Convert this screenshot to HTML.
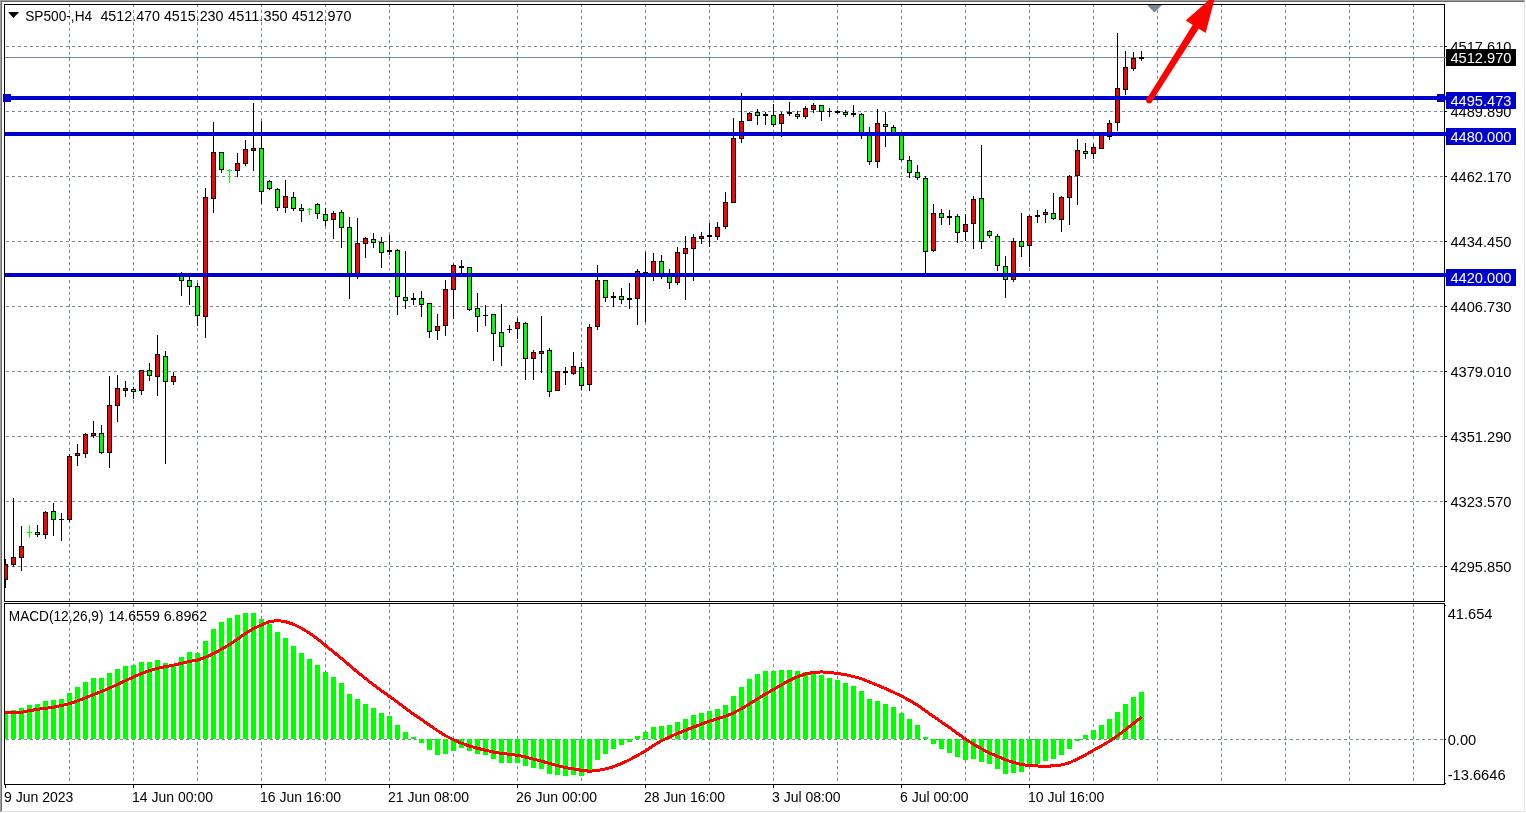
<!DOCTYPE html>
<html lang="en"><head><meta charset="utf-8"><title>SP500-,H4</title>
<style>html,body{margin:0;padding:0;background:#fff;overflow:hidden}svg text{font-family:'Liberation Sans', Arial, sans-serif;white-space:pre}</style>
</head><body>
<svg width="1526" height="813" viewBox="0 0 1526 813" shape-rendering="crispEdges" font-family="'Liberation Sans', Arial, sans-serif" font-size="14" style="display:block">
<rect x="0" y="0" width="1526" height="813" fill="#FFFFFF"/>
<rect x="0" y="0" width="1525" height="1" fill="#A0A0A0"/>
<rect x="0" y="0" width="1" height="812" fill="#A0A0A0"/>
<rect x="1" y="1" width="1523" height="1" fill="#696969"/>
<rect x="1" y="1" width="1" height="810" fill="#696969"/>
<rect x="1" y="811" width="1524" height="1" fill="#E3E3E3"/>
<rect x="1524" y="1" width="1" height="811" fill="#E3E3E3"/>
<path d="M6 46.5H9M12 46.5H15M18 46.5H21M24 46.5H27M30 46.5H33M36 46.5H39M42 46.5H45M48 46.5H51M54 46.5H57M60 46.5H63M66 46.5H69M72 46.5H75M78 46.5H81M84 46.5H87M90 46.5H93M96 46.5H99M102 46.5H105M108 46.5H111M114 46.5H117M120 46.5H123M126 46.5H129M132 46.5H135M138 46.5H141M144 46.5H147M150 46.5H153M156 46.5H159M162 46.5H165M168 46.5H171M174 46.5H177M180 46.5H183M186 46.5H189M192 46.5H195M198 46.5H201M204 46.5H207M210 46.5H213M216 46.5H219M222 46.5H225M228 46.5H231M234 46.5H237M240 46.5H243M246 46.5H249M252 46.5H255M258 46.5H261M264 46.5H267M270 46.5H273M276 46.5H279M282 46.5H285M288 46.5H291M294 46.5H297M300 46.5H303M306 46.5H309M312 46.5H315M318 46.5H321M324 46.5H327M330 46.5H333M336 46.5H339M342 46.5H345M348 46.5H351M354 46.5H357M360 46.5H363M366 46.5H369M372 46.5H375M378 46.5H381M384 46.5H387M390 46.5H393M396 46.5H399M402 46.5H405M408 46.5H411M414 46.5H417M420 46.5H423M426 46.5H429M432 46.5H435M438 46.5H441M444 46.5H447M450 46.5H453M456 46.5H459M462 46.5H465M468 46.5H471M474 46.5H477M480 46.5H483M486 46.5H489M492 46.5H495M498 46.5H501M504 46.5H507M510 46.5H513M516 46.5H519M522 46.5H525M528 46.5H531M534 46.5H537M540 46.5H543M546 46.5H549M552 46.5H555M558 46.5H561M564 46.5H567M570 46.5H573M576 46.5H579M582 46.5H585M588 46.5H591M594 46.5H597M600 46.5H603M606 46.5H609M612 46.5H615M618 46.5H621M624 46.5H627M630 46.5H633M636 46.5H639M642 46.5H645M648 46.5H651M654 46.5H657M660 46.5H663M666 46.5H669M672 46.5H675M678 46.5H681M684 46.5H687M690 46.5H693M696 46.5H699M702 46.5H705M708 46.5H711M714 46.5H717M720 46.5H723M726 46.5H729M732 46.5H735M738 46.5H741M744 46.5H747M750 46.5H753M756 46.5H759M762 46.5H765M768 46.5H771M774 46.5H777M780 46.5H783M786 46.5H789M792 46.5H795M798 46.5H801M804 46.5H807M810 46.5H813M816 46.5H819M822 46.5H825M828 46.5H831M834 46.5H837M840 46.5H843M846 46.5H849M852 46.5H855M858 46.5H861M864 46.5H867M870 46.5H873M876 46.5H879M882 46.5H885M888 46.5H891M894 46.5H897M900 46.5H903M906 46.5H909M912 46.5H915M918 46.5H921M924 46.5H927M930 46.5H933M936 46.5H939M942 46.5H945M948 46.5H951M954 46.5H957M960 46.5H963M966 46.5H969M972 46.5H975M978 46.5H981M984 46.5H987M990 46.5H993M996 46.5H999M1002 46.5H1005M1008 46.5H1011M1014 46.5H1017M1020 46.5H1023M1026 46.5H1029M1032 46.5H1035M1038 46.5H1041M1044 46.5H1047M1050 46.5H1053M1056 46.5H1059M1062 46.5H1065M1068 46.5H1071M1074 46.5H1077M1080 46.5H1083M1086 46.5H1089M1092 46.5H1095M1098 46.5H1101M1104 46.5H1107M1110 46.5H1113M1116 46.5H1119M1122 46.5H1125M1128 46.5H1131M1134 46.5H1137M1140 46.5H1143M1146 46.5H1149M1152 46.5H1155M1158 46.5H1161M1164 46.5H1167M1170 46.5H1173M1176 46.5H1179M1182 46.5H1185M1188 46.5H1191M1194 46.5H1197M1200 46.5H1203M1206 46.5H1209M1212 46.5H1215M1218 46.5H1221M1224 46.5H1227M1230 46.5H1233M1236 46.5H1239M1242 46.5H1245M1248 46.5H1251M1254 46.5H1257M1260 46.5H1263M1266 46.5H1269M1272 46.5H1275M1278 46.5H1281M1284 46.5H1287M1290 46.5H1293M1296 46.5H1299M1302 46.5H1305M1308 46.5H1311M1314 46.5H1317M1320 46.5H1323M1326 46.5H1329M1332 46.5H1335M1338 46.5H1341M1344 46.5H1347M1350 46.5H1353M1356 46.5H1359M1362 46.5H1365M1368 46.5H1371M1374 46.5H1377M1380 46.5H1383M1386 46.5H1389M1392 46.5H1395M1398 46.5H1401M1404 46.5H1407M1410 46.5H1413M1416 46.5H1419M1422 46.5H1425M1428 46.5H1431M1434 46.5H1437M1440 46.5H1443" stroke="#778899" stroke-width="1" fill="none"/>
<path d="M6 111.5H9M12 111.5H15M18 111.5H21M24 111.5H27M30 111.5H33M36 111.5H39M42 111.5H45M48 111.5H51M54 111.5H57M60 111.5H63M66 111.5H69M72 111.5H75M78 111.5H81M84 111.5H87M90 111.5H93M96 111.5H99M102 111.5H105M108 111.5H111M114 111.5H117M120 111.5H123M126 111.5H129M132 111.5H135M138 111.5H141M144 111.5H147M150 111.5H153M156 111.5H159M162 111.5H165M168 111.5H171M174 111.5H177M180 111.5H183M186 111.5H189M192 111.5H195M198 111.5H201M204 111.5H207M210 111.5H213M216 111.5H219M222 111.5H225M228 111.5H231M234 111.5H237M240 111.5H243M246 111.5H249M252 111.5H255M258 111.5H261M264 111.5H267M270 111.5H273M276 111.5H279M282 111.5H285M288 111.5H291M294 111.5H297M300 111.5H303M306 111.5H309M312 111.5H315M318 111.5H321M324 111.5H327M330 111.5H333M336 111.5H339M342 111.5H345M348 111.5H351M354 111.5H357M360 111.5H363M366 111.5H369M372 111.5H375M378 111.5H381M384 111.5H387M390 111.5H393M396 111.5H399M402 111.5H405M408 111.5H411M414 111.5H417M420 111.5H423M426 111.5H429M432 111.5H435M438 111.5H441M444 111.5H447M450 111.5H453M456 111.5H459M462 111.5H465M468 111.5H471M474 111.5H477M480 111.5H483M486 111.5H489M492 111.5H495M498 111.5H501M504 111.5H507M510 111.5H513M516 111.5H519M522 111.5H525M528 111.5H531M534 111.5H537M540 111.5H543M546 111.5H549M552 111.5H555M558 111.5H561M564 111.5H567M570 111.5H573M576 111.5H579M582 111.5H585M588 111.5H591M594 111.5H597M600 111.5H603M606 111.5H609M612 111.5H615M618 111.5H621M624 111.5H627M630 111.5H633M636 111.5H639M642 111.5H645M648 111.5H651M654 111.5H657M660 111.5H663M666 111.5H669M672 111.5H675M678 111.5H681M684 111.5H687M690 111.5H693M696 111.5H699M702 111.5H705M708 111.5H711M714 111.5H717M720 111.5H723M726 111.5H729M732 111.5H735M738 111.5H741M744 111.5H747M750 111.5H753M756 111.5H759M762 111.5H765M768 111.5H771M774 111.5H777M780 111.5H783M786 111.5H789M792 111.5H795M798 111.5H801M804 111.5H807M810 111.5H813M816 111.5H819M822 111.5H825M828 111.5H831M834 111.5H837M840 111.5H843M846 111.5H849M852 111.5H855M858 111.5H861M864 111.5H867M870 111.5H873M876 111.5H879M882 111.5H885M888 111.5H891M894 111.5H897M900 111.5H903M906 111.5H909M912 111.5H915M918 111.5H921M924 111.5H927M930 111.5H933M936 111.5H939M942 111.5H945M948 111.5H951M954 111.5H957M960 111.5H963M966 111.5H969M972 111.5H975M978 111.5H981M984 111.5H987M990 111.5H993M996 111.5H999M1002 111.5H1005M1008 111.5H1011M1014 111.5H1017M1020 111.5H1023M1026 111.5H1029M1032 111.5H1035M1038 111.5H1041M1044 111.5H1047M1050 111.5H1053M1056 111.5H1059M1062 111.5H1065M1068 111.5H1071M1074 111.5H1077M1080 111.5H1083M1086 111.5H1089M1092 111.5H1095M1098 111.5H1101M1104 111.5H1107M1110 111.5H1113M1116 111.5H1119M1122 111.5H1125M1128 111.5H1131M1134 111.5H1137M1140 111.5H1143M1146 111.5H1149M1152 111.5H1155M1158 111.5H1161M1164 111.5H1167M1170 111.5H1173M1176 111.5H1179M1182 111.5H1185M1188 111.5H1191M1194 111.5H1197M1200 111.5H1203M1206 111.5H1209M1212 111.5H1215M1218 111.5H1221M1224 111.5H1227M1230 111.5H1233M1236 111.5H1239M1242 111.5H1245M1248 111.5H1251M1254 111.5H1257M1260 111.5H1263M1266 111.5H1269M1272 111.5H1275M1278 111.5H1281M1284 111.5H1287M1290 111.5H1293M1296 111.5H1299M1302 111.5H1305M1308 111.5H1311M1314 111.5H1317M1320 111.5H1323M1326 111.5H1329M1332 111.5H1335M1338 111.5H1341M1344 111.5H1347M1350 111.5H1353M1356 111.5H1359M1362 111.5H1365M1368 111.5H1371M1374 111.5H1377M1380 111.5H1383M1386 111.5H1389M1392 111.5H1395M1398 111.5H1401M1404 111.5H1407M1410 111.5H1413M1416 111.5H1419M1422 111.5H1425M1428 111.5H1431M1434 111.5H1437M1440 111.5H1443" stroke="#778899" stroke-width="1" fill="none"/>
<path d="M6 176.5H9M12 176.5H15M18 176.5H21M24 176.5H27M30 176.5H33M36 176.5H39M42 176.5H45M48 176.5H51M54 176.5H57M60 176.5H63M66 176.5H69M72 176.5H75M78 176.5H81M84 176.5H87M90 176.5H93M96 176.5H99M102 176.5H105M108 176.5H111M114 176.5H117M120 176.5H123M126 176.5H129M132 176.5H135M138 176.5H141M144 176.5H147M150 176.5H153M156 176.5H159M162 176.5H165M168 176.5H171M174 176.5H177M180 176.5H183M186 176.5H189M192 176.5H195M198 176.5H201M204 176.5H207M210 176.5H213M216 176.5H219M222 176.5H225M228 176.5H231M234 176.5H237M240 176.5H243M246 176.5H249M252 176.5H255M258 176.5H261M264 176.5H267M270 176.5H273M276 176.5H279M282 176.5H285M288 176.5H291M294 176.5H297M300 176.5H303M306 176.5H309M312 176.5H315M318 176.5H321M324 176.5H327M330 176.5H333M336 176.5H339M342 176.5H345M348 176.5H351M354 176.5H357M360 176.5H363M366 176.5H369M372 176.5H375M378 176.5H381M384 176.5H387M390 176.5H393M396 176.5H399M402 176.5H405M408 176.5H411M414 176.5H417M420 176.5H423M426 176.5H429M432 176.5H435M438 176.5H441M444 176.5H447M450 176.5H453M456 176.5H459M462 176.5H465M468 176.5H471M474 176.5H477M480 176.5H483M486 176.5H489M492 176.5H495M498 176.5H501M504 176.5H507M510 176.5H513M516 176.5H519M522 176.5H525M528 176.5H531M534 176.5H537M540 176.5H543M546 176.5H549M552 176.5H555M558 176.5H561M564 176.5H567M570 176.5H573M576 176.5H579M582 176.5H585M588 176.5H591M594 176.5H597M600 176.5H603M606 176.5H609M612 176.5H615M618 176.5H621M624 176.5H627M630 176.5H633M636 176.5H639M642 176.5H645M648 176.5H651M654 176.5H657M660 176.5H663M666 176.5H669M672 176.5H675M678 176.5H681M684 176.5H687M690 176.5H693M696 176.5H699M702 176.5H705M708 176.5H711M714 176.5H717M720 176.5H723M726 176.5H729M732 176.5H735M738 176.5H741M744 176.5H747M750 176.5H753M756 176.5H759M762 176.5H765M768 176.5H771M774 176.5H777M780 176.5H783M786 176.5H789M792 176.5H795M798 176.5H801M804 176.5H807M810 176.5H813M816 176.5H819M822 176.5H825M828 176.5H831M834 176.5H837M840 176.5H843M846 176.5H849M852 176.5H855M858 176.5H861M864 176.5H867M870 176.5H873M876 176.5H879M882 176.5H885M888 176.5H891M894 176.5H897M900 176.5H903M906 176.5H909M912 176.5H915M918 176.5H921M924 176.5H927M930 176.5H933M936 176.5H939M942 176.5H945M948 176.5H951M954 176.5H957M960 176.5H963M966 176.5H969M972 176.5H975M978 176.5H981M984 176.5H987M990 176.5H993M996 176.5H999M1002 176.5H1005M1008 176.5H1011M1014 176.5H1017M1020 176.5H1023M1026 176.5H1029M1032 176.5H1035M1038 176.5H1041M1044 176.5H1047M1050 176.5H1053M1056 176.5H1059M1062 176.5H1065M1068 176.5H1071M1074 176.5H1077M1080 176.5H1083M1086 176.5H1089M1092 176.5H1095M1098 176.5H1101M1104 176.5H1107M1110 176.5H1113M1116 176.5H1119M1122 176.5H1125M1128 176.5H1131M1134 176.5H1137M1140 176.5H1143M1146 176.5H1149M1152 176.5H1155M1158 176.5H1161M1164 176.5H1167M1170 176.5H1173M1176 176.5H1179M1182 176.5H1185M1188 176.5H1191M1194 176.5H1197M1200 176.5H1203M1206 176.5H1209M1212 176.5H1215M1218 176.5H1221M1224 176.5H1227M1230 176.5H1233M1236 176.5H1239M1242 176.5H1245M1248 176.5H1251M1254 176.5H1257M1260 176.5H1263M1266 176.5H1269M1272 176.5H1275M1278 176.5H1281M1284 176.5H1287M1290 176.5H1293M1296 176.5H1299M1302 176.5H1305M1308 176.5H1311M1314 176.5H1317M1320 176.5H1323M1326 176.5H1329M1332 176.5H1335M1338 176.5H1341M1344 176.5H1347M1350 176.5H1353M1356 176.5H1359M1362 176.5H1365M1368 176.5H1371M1374 176.5H1377M1380 176.5H1383M1386 176.5H1389M1392 176.5H1395M1398 176.5H1401M1404 176.5H1407M1410 176.5H1413M1416 176.5H1419M1422 176.5H1425M1428 176.5H1431M1434 176.5H1437M1440 176.5H1443" stroke="#778899" stroke-width="1" fill="none"/>
<path d="M6 241.5H9M12 241.5H15M18 241.5H21M24 241.5H27M30 241.5H33M36 241.5H39M42 241.5H45M48 241.5H51M54 241.5H57M60 241.5H63M66 241.5H69M72 241.5H75M78 241.5H81M84 241.5H87M90 241.5H93M96 241.5H99M102 241.5H105M108 241.5H111M114 241.5H117M120 241.5H123M126 241.5H129M132 241.5H135M138 241.5H141M144 241.5H147M150 241.5H153M156 241.5H159M162 241.5H165M168 241.5H171M174 241.5H177M180 241.5H183M186 241.5H189M192 241.5H195M198 241.5H201M204 241.5H207M210 241.5H213M216 241.5H219M222 241.5H225M228 241.5H231M234 241.5H237M240 241.5H243M246 241.5H249M252 241.5H255M258 241.5H261M264 241.5H267M270 241.5H273M276 241.5H279M282 241.5H285M288 241.5H291M294 241.5H297M300 241.5H303M306 241.5H309M312 241.5H315M318 241.5H321M324 241.5H327M330 241.5H333M336 241.5H339M342 241.5H345M348 241.5H351M354 241.5H357M360 241.5H363M366 241.5H369M372 241.5H375M378 241.5H381M384 241.5H387M390 241.5H393M396 241.5H399M402 241.5H405M408 241.5H411M414 241.5H417M420 241.5H423M426 241.5H429M432 241.5H435M438 241.5H441M444 241.5H447M450 241.5H453M456 241.5H459M462 241.5H465M468 241.5H471M474 241.5H477M480 241.5H483M486 241.5H489M492 241.5H495M498 241.5H501M504 241.5H507M510 241.5H513M516 241.5H519M522 241.5H525M528 241.5H531M534 241.5H537M540 241.5H543M546 241.5H549M552 241.5H555M558 241.5H561M564 241.5H567M570 241.5H573M576 241.5H579M582 241.5H585M588 241.5H591M594 241.5H597M600 241.5H603M606 241.5H609M612 241.5H615M618 241.5H621M624 241.5H627M630 241.5H633M636 241.5H639M642 241.5H645M648 241.5H651M654 241.5H657M660 241.5H663M666 241.5H669M672 241.5H675M678 241.5H681M684 241.5H687M690 241.5H693M696 241.5H699M702 241.5H705M708 241.5H711M714 241.5H717M720 241.5H723M726 241.5H729M732 241.5H735M738 241.5H741M744 241.5H747M750 241.5H753M756 241.5H759M762 241.5H765M768 241.5H771M774 241.5H777M780 241.5H783M786 241.5H789M792 241.5H795M798 241.5H801M804 241.5H807M810 241.5H813M816 241.5H819M822 241.5H825M828 241.5H831M834 241.5H837M840 241.5H843M846 241.5H849M852 241.5H855M858 241.5H861M864 241.5H867M870 241.5H873M876 241.5H879M882 241.5H885M888 241.5H891M894 241.5H897M900 241.5H903M906 241.5H909M912 241.5H915M918 241.5H921M924 241.5H927M930 241.5H933M936 241.5H939M942 241.5H945M948 241.5H951M954 241.5H957M960 241.5H963M966 241.5H969M972 241.5H975M978 241.5H981M984 241.5H987M990 241.5H993M996 241.5H999M1002 241.5H1005M1008 241.5H1011M1014 241.5H1017M1020 241.5H1023M1026 241.5H1029M1032 241.5H1035M1038 241.5H1041M1044 241.5H1047M1050 241.5H1053M1056 241.5H1059M1062 241.5H1065M1068 241.5H1071M1074 241.5H1077M1080 241.5H1083M1086 241.5H1089M1092 241.5H1095M1098 241.5H1101M1104 241.5H1107M1110 241.5H1113M1116 241.5H1119M1122 241.5H1125M1128 241.5H1131M1134 241.5H1137M1140 241.5H1143M1146 241.5H1149M1152 241.5H1155M1158 241.5H1161M1164 241.5H1167M1170 241.5H1173M1176 241.5H1179M1182 241.5H1185M1188 241.5H1191M1194 241.5H1197M1200 241.5H1203M1206 241.5H1209M1212 241.5H1215M1218 241.5H1221M1224 241.5H1227M1230 241.5H1233M1236 241.5H1239M1242 241.5H1245M1248 241.5H1251M1254 241.5H1257M1260 241.5H1263M1266 241.5H1269M1272 241.5H1275M1278 241.5H1281M1284 241.5H1287M1290 241.5H1293M1296 241.5H1299M1302 241.5H1305M1308 241.5H1311M1314 241.5H1317M1320 241.5H1323M1326 241.5H1329M1332 241.5H1335M1338 241.5H1341M1344 241.5H1347M1350 241.5H1353M1356 241.5H1359M1362 241.5H1365M1368 241.5H1371M1374 241.5H1377M1380 241.5H1383M1386 241.5H1389M1392 241.5H1395M1398 241.5H1401M1404 241.5H1407M1410 241.5H1413M1416 241.5H1419M1422 241.5H1425M1428 241.5H1431M1434 241.5H1437M1440 241.5H1443" stroke="#778899" stroke-width="1" fill="none"/>
<path d="M6 306.5H9M12 306.5H15M18 306.5H21M24 306.5H27M30 306.5H33M36 306.5H39M42 306.5H45M48 306.5H51M54 306.5H57M60 306.5H63M66 306.5H69M72 306.5H75M78 306.5H81M84 306.5H87M90 306.5H93M96 306.5H99M102 306.5H105M108 306.5H111M114 306.5H117M120 306.5H123M126 306.5H129M132 306.5H135M138 306.5H141M144 306.5H147M150 306.5H153M156 306.5H159M162 306.5H165M168 306.5H171M174 306.5H177M180 306.5H183M186 306.5H189M192 306.5H195M198 306.5H201M204 306.5H207M210 306.5H213M216 306.5H219M222 306.5H225M228 306.5H231M234 306.5H237M240 306.5H243M246 306.5H249M252 306.5H255M258 306.5H261M264 306.5H267M270 306.5H273M276 306.5H279M282 306.5H285M288 306.5H291M294 306.5H297M300 306.5H303M306 306.5H309M312 306.5H315M318 306.5H321M324 306.5H327M330 306.5H333M336 306.5H339M342 306.5H345M348 306.5H351M354 306.5H357M360 306.5H363M366 306.5H369M372 306.5H375M378 306.5H381M384 306.5H387M390 306.5H393M396 306.5H399M402 306.5H405M408 306.5H411M414 306.5H417M420 306.5H423M426 306.5H429M432 306.5H435M438 306.5H441M444 306.5H447M450 306.5H453M456 306.5H459M462 306.5H465M468 306.5H471M474 306.5H477M480 306.5H483M486 306.5H489M492 306.5H495M498 306.5H501M504 306.5H507M510 306.5H513M516 306.5H519M522 306.5H525M528 306.5H531M534 306.5H537M540 306.5H543M546 306.5H549M552 306.5H555M558 306.5H561M564 306.5H567M570 306.5H573M576 306.5H579M582 306.5H585M588 306.5H591M594 306.5H597M600 306.5H603M606 306.5H609M612 306.5H615M618 306.5H621M624 306.5H627M630 306.5H633M636 306.5H639M642 306.5H645M648 306.5H651M654 306.5H657M660 306.5H663M666 306.5H669M672 306.5H675M678 306.5H681M684 306.5H687M690 306.5H693M696 306.5H699M702 306.5H705M708 306.5H711M714 306.5H717M720 306.5H723M726 306.5H729M732 306.5H735M738 306.5H741M744 306.5H747M750 306.5H753M756 306.5H759M762 306.5H765M768 306.5H771M774 306.5H777M780 306.5H783M786 306.5H789M792 306.5H795M798 306.5H801M804 306.5H807M810 306.5H813M816 306.5H819M822 306.5H825M828 306.5H831M834 306.5H837M840 306.5H843M846 306.5H849M852 306.5H855M858 306.5H861M864 306.5H867M870 306.5H873M876 306.5H879M882 306.5H885M888 306.5H891M894 306.5H897M900 306.5H903M906 306.5H909M912 306.5H915M918 306.5H921M924 306.5H927M930 306.5H933M936 306.5H939M942 306.5H945M948 306.5H951M954 306.5H957M960 306.5H963M966 306.5H969M972 306.5H975M978 306.5H981M984 306.5H987M990 306.5H993M996 306.5H999M1002 306.5H1005M1008 306.5H1011M1014 306.5H1017M1020 306.5H1023M1026 306.5H1029M1032 306.5H1035M1038 306.5H1041M1044 306.5H1047M1050 306.5H1053M1056 306.5H1059M1062 306.5H1065M1068 306.5H1071M1074 306.5H1077M1080 306.5H1083M1086 306.5H1089M1092 306.5H1095M1098 306.5H1101M1104 306.5H1107M1110 306.5H1113M1116 306.5H1119M1122 306.5H1125M1128 306.5H1131M1134 306.5H1137M1140 306.5H1143M1146 306.5H1149M1152 306.5H1155M1158 306.5H1161M1164 306.5H1167M1170 306.5H1173M1176 306.5H1179M1182 306.5H1185M1188 306.5H1191M1194 306.5H1197M1200 306.5H1203M1206 306.5H1209M1212 306.5H1215M1218 306.5H1221M1224 306.5H1227M1230 306.5H1233M1236 306.5H1239M1242 306.5H1245M1248 306.5H1251M1254 306.5H1257M1260 306.5H1263M1266 306.5H1269M1272 306.5H1275M1278 306.5H1281M1284 306.5H1287M1290 306.5H1293M1296 306.5H1299M1302 306.5H1305M1308 306.5H1311M1314 306.5H1317M1320 306.5H1323M1326 306.5H1329M1332 306.5H1335M1338 306.5H1341M1344 306.5H1347M1350 306.5H1353M1356 306.5H1359M1362 306.5H1365M1368 306.5H1371M1374 306.5H1377M1380 306.5H1383M1386 306.5H1389M1392 306.5H1395M1398 306.5H1401M1404 306.5H1407M1410 306.5H1413M1416 306.5H1419M1422 306.5H1425M1428 306.5H1431M1434 306.5H1437M1440 306.5H1443" stroke="#778899" stroke-width="1" fill="none"/>
<path d="M6 371.5H9M12 371.5H15M18 371.5H21M24 371.5H27M30 371.5H33M36 371.5H39M42 371.5H45M48 371.5H51M54 371.5H57M60 371.5H63M66 371.5H69M72 371.5H75M78 371.5H81M84 371.5H87M90 371.5H93M96 371.5H99M102 371.5H105M108 371.5H111M114 371.5H117M120 371.5H123M126 371.5H129M132 371.5H135M138 371.5H141M144 371.5H147M150 371.5H153M156 371.5H159M162 371.5H165M168 371.5H171M174 371.5H177M180 371.5H183M186 371.5H189M192 371.5H195M198 371.5H201M204 371.5H207M210 371.5H213M216 371.5H219M222 371.5H225M228 371.5H231M234 371.5H237M240 371.5H243M246 371.5H249M252 371.5H255M258 371.5H261M264 371.5H267M270 371.5H273M276 371.5H279M282 371.5H285M288 371.5H291M294 371.5H297M300 371.5H303M306 371.5H309M312 371.5H315M318 371.5H321M324 371.5H327M330 371.5H333M336 371.5H339M342 371.5H345M348 371.5H351M354 371.5H357M360 371.5H363M366 371.5H369M372 371.5H375M378 371.5H381M384 371.5H387M390 371.5H393M396 371.5H399M402 371.5H405M408 371.5H411M414 371.5H417M420 371.5H423M426 371.5H429M432 371.5H435M438 371.5H441M444 371.5H447M450 371.5H453M456 371.5H459M462 371.5H465M468 371.5H471M474 371.5H477M480 371.5H483M486 371.5H489M492 371.5H495M498 371.5H501M504 371.5H507M510 371.5H513M516 371.5H519M522 371.5H525M528 371.5H531M534 371.5H537M540 371.5H543M546 371.5H549M552 371.5H555M558 371.5H561M564 371.5H567M570 371.5H573M576 371.5H579M582 371.5H585M588 371.5H591M594 371.5H597M600 371.5H603M606 371.5H609M612 371.5H615M618 371.5H621M624 371.5H627M630 371.5H633M636 371.5H639M642 371.5H645M648 371.5H651M654 371.5H657M660 371.5H663M666 371.5H669M672 371.5H675M678 371.5H681M684 371.5H687M690 371.5H693M696 371.5H699M702 371.5H705M708 371.5H711M714 371.5H717M720 371.5H723M726 371.5H729M732 371.5H735M738 371.5H741M744 371.5H747M750 371.5H753M756 371.5H759M762 371.5H765M768 371.5H771M774 371.5H777M780 371.5H783M786 371.5H789M792 371.5H795M798 371.5H801M804 371.5H807M810 371.5H813M816 371.5H819M822 371.5H825M828 371.5H831M834 371.5H837M840 371.5H843M846 371.5H849M852 371.5H855M858 371.5H861M864 371.5H867M870 371.5H873M876 371.5H879M882 371.5H885M888 371.5H891M894 371.5H897M900 371.5H903M906 371.5H909M912 371.5H915M918 371.5H921M924 371.5H927M930 371.5H933M936 371.5H939M942 371.5H945M948 371.5H951M954 371.5H957M960 371.5H963M966 371.5H969M972 371.5H975M978 371.5H981M984 371.5H987M990 371.5H993M996 371.5H999M1002 371.5H1005M1008 371.5H1011M1014 371.5H1017M1020 371.5H1023M1026 371.5H1029M1032 371.5H1035M1038 371.5H1041M1044 371.5H1047M1050 371.5H1053M1056 371.5H1059M1062 371.5H1065M1068 371.5H1071M1074 371.5H1077M1080 371.5H1083M1086 371.5H1089M1092 371.5H1095M1098 371.5H1101M1104 371.5H1107M1110 371.5H1113M1116 371.5H1119M1122 371.5H1125M1128 371.5H1131M1134 371.5H1137M1140 371.5H1143M1146 371.5H1149M1152 371.5H1155M1158 371.5H1161M1164 371.5H1167M1170 371.5H1173M1176 371.5H1179M1182 371.5H1185M1188 371.5H1191M1194 371.5H1197M1200 371.5H1203M1206 371.5H1209M1212 371.5H1215M1218 371.5H1221M1224 371.5H1227M1230 371.5H1233M1236 371.5H1239M1242 371.5H1245M1248 371.5H1251M1254 371.5H1257M1260 371.5H1263M1266 371.5H1269M1272 371.5H1275M1278 371.5H1281M1284 371.5H1287M1290 371.5H1293M1296 371.5H1299M1302 371.5H1305M1308 371.5H1311M1314 371.5H1317M1320 371.5H1323M1326 371.5H1329M1332 371.5H1335M1338 371.5H1341M1344 371.5H1347M1350 371.5H1353M1356 371.5H1359M1362 371.5H1365M1368 371.5H1371M1374 371.5H1377M1380 371.5H1383M1386 371.5H1389M1392 371.5H1395M1398 371.5H1401M1404 371.5H1407M1410 371.5H1413M1416 371.5H1419M1422 371.5H1425M1428 371.5H1431M1434 371.5H1437M1440 371.5H1443" stroke="#778899" stroke-width="1" fill="none"/>
<path d="M6 436.5H9M12 436.5H15M18 436.5H21M24 436.5H27M30 436.5H33M36 436.5H39M42 436.5H45M48 436.5H51M54 436.5H57M60 436.5H63M66 436.5H69M72 436.5H75M78 436.5H81M84 436.5H87M90 436.5H93M96 436.5H99M102 436.5H105M108 436.5H111M114 436.5H117M120 436.5H123M126 436.5H129M132 436.5H135M138 436.5H141M144 436.5H147M150 436.5H153M156 436.5H159M162 436.5H165M168 436.5H171M174 436.5H177M180 436.5H183M186 436.5H189M192 436.5H195M198 436.5H201M204 436.5H207M210 436.5H213M216 436.5H219M222 436.5H225M228 436.5H231M234 436.5H237M240 436.5H243M246 436.5H249M252 436.5H255M258 436.5H261M264 436.5H267M270 436.5H273M276 436.5H279M282 436.5H285M288 436.5H291M294 436.5H297M300 436.5H303M306 436.5H309M312 436.5H315M318 436.5H321M324 436.5H327M330 436.5H333M336 436.5H339M342 436.5H345M348 436.5H351M354 436.5H357M360 436.5H363M366 436.5H369M372 436.5H375M378 436.5H381M384 436.5H387M390 436.5H393M396 436.5H399M402 436.5H405M408 436.5H411M414 436.5H417M420 436.5H423M426 436.5H429M432 436.5H435M438 436.5H441M444 436.5H447M450 436.5H453M456 436.5H459M462 436.5H465M468 436.5H471M474 436.5H477M480 436.5H483M486 436.5H489M492 436.5H495M498 436.5H501M504 436.5H507M510 436.5H513M516 436.5H519M522 436.5H525M528 436.5H531M534 436.5H537M540 436.5H543M546 436.5H549M552 436.5H555M558 436.5H561M564 436.5H567M570 436.5H573M576 436.5H579M582 436.5H585M588 436.5H591M594 436.5H597M600 436.5H603M606 436.5H609M612 436.5H615M618 436.5H621M624 436.5H627M630 436.5H633M636 436.5H639M642 436.5H645M648 436.5H651M654 436.5H657M660 436.5H663M666 436.5H669M672 436.5H675M678 436.5H681M684 436.5H687M690 436.5H693M696 436.5H699M702 436.5H705M708 436.5H711M714 436.5H717M720 436.5H723M726 436.5H729M732 436.5H735M738 436.5H741M744 436.5H747M750 436.5H753M756 436.5H759M762 436.5H765M768 436.5H771M774 436.5H777M780 436.5H783M786 436.5H789M792 436.5H795M798 436.5H801M804 436.5H807M810 436.5H813M816 436.5H819M822 436.5H825M828 436.5H831M834 436.5H837M840 436.5H843M846 436.5H849M852 436.5H855M858 436.5H861M864 436.5H867M870 436.5H873M876 436.5H879M882 436.5H885M888 436.5H891M894 436.5H897M900 436.5H903M906 436.5H909M912 436.5H915M918 436.5H921M924 436.5H927M930 436.5H933M936 436.5H939M942 436.5H945M948 436.5H951M954 436.5H957M960 436.5H963M966 436.5H969M972 436.5H975M978 436.5H981M984 436.5H987M990 436.5H993M996 436.5H999M1002 436.5H1005M1008 436.5H1011M1014 436.5H1017M1020 436.5H1023M1026 436.5H1029M1032 436.5H1035M1038 436.5H1041M1044 436.5H1047M1050 436.5H1053M1056 436.5H1059M1062 436.5H1065M1068 436.5H1071M1074 436.5H1077M1080 436.5H1083M1086 436.5H1089M1092 436.5H1095M1098 436.5H1101M1104 436.5H1107M1110 436.5H1113M1116 436.5H1119M1122 436.5H1125M1128 436.5H1131M1134 436.5H1137M1140 436.5H1143M1146 436.5H1149M1152 436.5H1155M1158 436.5H1161M1164 436.5H1167M1170 436.5H1173M1176 436.5H1179M1182 436.5H1185M1188 436.5H1191M1194 436.5H1197M1200 436.5H1203M1206 436.5H1209M1212 436.5H1215M1218 436.5H1221M1224 436.5H1227M1230 436.5H1233M1236 436.5H1239M1242 436.5H1245M1248 436.5H1251M1254 436.5H1257M1260 436.5H1263M1266 436.5H1269M1272 436.5H1275M1278 436.5H1281M1284 436.5H1287M1290 436.5H1293M1296 436.5H1299M1302 436.5H1305M1308 436.5H1311M1314 436.5H1317M1320 436.5H1323M1326 436.5H1329M1332 436.5H1335M1338 436.5H1341M1344 436.5H1347M1350 436.5H1353M1356 436.5H1359M1362 436.5H1365M1368 436.5H1371M1374 436.5H1377M1380 436.5H1383M1386 436.5H1389M1392 436.5H1395M1398 436.5H1401M1404 436.5H1407M1410 436.5H1413M1416 436.5H1419M1422 436.5H1425M1428 436.5H1431M1434 436.5H1437M1440 436.5H1443" stroke="#778899" stroke-width="1" fill="none"/>
<path d="M6 501.5H9M12 501.5H15M18 501.5H21M24 501.5H27M30 501.5H33M36 501.5H39M42 501.5H45M48 501.5H51M54 501.5H57M60 501.5H63M66 501.5H69M72 501.5H75M78 501.5H81M84 501.5H87M90 501.5H93M96 501.5H99M102 501.5H105M108 501.5H111M114 501.5H117M120 501.5H123M126 501.5H129M132 501.5H135M138 501.5H141M144 501.5H147M150 501.5H153M156 501.5H159M162 501.5H165M168 501.5H171M174 501.5H177M180 501.5H183M186 501.5H189M192 501.5H195M198 501.5H201M204 501.5H207M210 501.5H213M216 501.5H219M222 501.5H225M228 501.5H231M234 501.5H237M240 501.5H243M246 501.5H249M252 501.5H255M258 501.5H261M264 501.5H267M270 501.5H273M276 501.5H279M282 501.5H285M288 501.5H291M294 501.5H297M300 501.5H303M306 501.5H309M312 501.5H315M318 501.5H321M324 501.5H327M330 501.5H333M336 501.5H339M342 501.5H345M348 501.5H351M354 501.5H357M360 501.5H363M366 501.5H369M372 501.5H375M378 501.5H381M384 501.5H387M390 501.5H393M396 501.5H399M402 501.5H405M408 501.5H411M414 501.5H417M420 501.5H423M426 501.5H429M432 501.5H435M438 501.5H441M444 501.5H447M450 501.5H453M456 501.5H459M462 501.5H465M468 501.5H471M474 501.5H477M480 501.5H483M486 501.5H489M492 501.5H495M498 501.5H501M504 501.5H507M510 501.5H513M516 501.5H519M522 501.5H525M528 501.5H531M534 501.5H537M540 501.5H543M546 501.5H549M552 501.5H555M558 501.5H561M564 501.5H567M570 501.5H573M576 501.5H579M582 501.5H585M588 501.5H591M594 501.5H597M600 501.5H603M606 501.5H609M612 501.5H615M618 501.5H621M624 501.5H627M630 501.5H633M636 501.5H639M642 501.5H645M648 501.5H651M654 501.5H657M660 501.5H663M666 501.5H669M672 501.5H675M678 501.5H681M684 501.5H687M690 501.5H693M696 501.5H699M702 501.5H705M708 501.5H711M714 501.5H717M720 501.5H723M726 501.5H729M732 501.5H735M738 501.5H741M744 501.5H747M750 501.5H753M756 501.5H759M762 501.5H765M768 501.5H771M774 501.5H777M780 501.5H783M786 501.5H789M792 501.5H795M798 501.5H801M804 501.5H807M810 501.5H813M816 501.5H819M822 501.5H825M828 501.5H831M834 501.5H837M840 501.5H843M846 501.5H849M852 501.5H855M858 501.5H861M864 501.5H867M870 501.5H873M876 501.5H879M882 501.5H885M888 501.5H891M894 501.5H897M900 501.5H903M906 501.5H909M912 501.5H915M918 501.5H921M924 501.5H927M930 501.5H933M936 501.5H939M942 501.5H945M948 501.5H951M954 501.5H957M960 501.5H963M966 501.5H969M972 501.5H975M978 501.5H981M984 501.5H987M990 501.5H993M996 501.5H999M1002 501.5H1005M1008 501.5H1011M1014 501.5H1017M1020 501.5H1023M1026 501.5H1029M1032 501.5H1035M1038 501.5H1041M1044 501.5H1047M1050 501.5H1053M1056 501.5H1059M1062 501.5H1065M1068 501.5H1071M1074 501.5H1077M1080 501.5H1083M1086 501.5H1089M1092 501.5H1095M1098 501.5H1101M1104 501.5H1107M1110 501.5H1113M1116 501.5H1119M1122 501.5H1125M1128 501.5H1131M1134 501.5H1137M1140 501.5H1143M1146 501.5H1149M1152 501.5H1155M1158 501.5H1161M1164 501.5H1167M1170 501.5H1173M1176 501.5H1179M1182 501.5H1185M1188 501.5H1191M1194 501.5H1197M1200 501.5H1203M1206 501.5H1209M1212 501.5H1215M1218 501.5H1221M1224 501.5H1227M1230 501.5H1233M1236 501.5H1239M1242 501.5H1245M1248 501.5H1251M1254 501.5H1257M1260 501.5H1263M1266 501.5H1269M1272 501.5H1275M1278 501.5H1281M1284 501.5H1287M1290 501.5H1293M1296 501.5H1299M1302 501.5H1305M1308 501.5H1311M1314 501.5H1317M1320 501.5H1323M1326 501.5H1329M1332 501.5H1335M1338 501.5H1341M1344 501.5H1347M1350 501.5H1353M1356 501.5H1359M1362 501.5H1365M1368 501.5H1371M1374 501.5H1377M1380 501.5H1383M1386 501.5H1389M1392 501.5H1395M1398 501.5H1401M1404 501.5H1407M1410 501.5H1413M1416 501.5H1419M1422 501.5H1425M1428 501.5H1431M1434 501.5H1437M1440 501.5H1443" stroke="#778899" stroke-width="1" fill="none"/>
<path d="M6 566.5H9M12 566.5H15M18 566.5H21M24 566.5H27M30 566.5H33M36 566.5H39M42 566.5H45M48 566.5H51M54 566.5H57M60 566.5H63M66 566.5H69M72 566.5H75M78 566.5H81M84 566.5H87M90 566.5H93M96 566.5H99M102 566.5H105M108 566.5H111M114 566.5H117M120 566.5H123M126 566.5H129M132 566.5H135M138 566.5H141M144 566.5H147M150 566.5H153M156 566.5H159M162 566.5H165M168 566.5H171M174 566.5H177M180 566.5H183M186 566.5H189M192 566.5H195M198 566.5H201M204 566.5H207M210 566.5H213M216 566.5H219M222 566.5H225M228 566.5H231M234 566.5H237M240 566.5H243M246 566.5H249M252 566.5H255M258 566.5H261M264 566.5H267M270 566.5H273M276 566.5H279M282 566.5H285M288 566.5H291M294 566.5H297M300 566.5H303M306 566.5H309M312 566.5H315M318 566.5H321M324 566.5H327M330 566.5H333M336 566.5H339M342 566.5H345M348 566.5H351M354 566.5H357M360 566.5H363M366 566.5H369M372 566.5H375M378 566.5H381M384 566.5H387M390 566.5H393M396 566.5H399M402 566.5H405M408 566.5H411M414 566.5H417M420 566.5H423M426 566.5H429M432 566.5H435M438 566.5H441M444 566.5H447M450 566.5H453M456 566.5H459M462 566.5H465M468 566.5H471M474 566.5H477M480 566.5H483M486 566.5H489M492 566.5H495M498 566.5H501M504 566.5H507M510 566.5H513M516 566.5H519M522 566.5H525M528 566.5H531M534 566.5H537M540 566.5H543M546 566.5H549M552 566.5H555M558 566.5H561M564 566.5H567M570 566.5H573M576 566.5H579M582 566.5H585M588 566.5H591M594 566.5H597M600 566.5H603M606 566.5H609M612 566.5H615M618 566.5H621M624 566.5H627M630 566.5H633M636 566.5H639M642 566.5H645M648 566.5H651M654 566.5H657M660 566.5H663M666 566.5H669M672 566.5H675M678 566.5H681M684 566.5H687M690 566.5H693M696 566.5H699M702 566.5H705M708 566.5H711M714 566.5H717M720 566.5H723M726 566.5H729M732 566.5H735M738 566.5H741M744 566.5H747M750 566.5H753M756 566.5H759M762 566.5H765M768 566.5H771M774 566.5H777M780 566.5H783M786 566.5H789M792 566.5H795M798 566.5H801M804 566.5H807M810 566.5H813M816 566.5H819M822 566.5H825M828 566.5H831M834 566.5H837M840 566.5H843M846 566.5H849M852 566.5H855M858 566.5H861M864 566.5H867M870 566.5H873M876 566.5H879M882 566.5H885M888 566.5H891M894 566.5H897M900 566.5H903M906 566.5H909M912 566.5H915M918 566.5H921M924 566.5H927M930 566.5H933M936 566.5H939M942 566.5H945M948 566.5H951M954 566.5H957M960 566.5H963M966 566.5H969M972 566.5H975M978 566.5H981M984 566.5H987M990 566.5H993M996 566.5H999M1002 566.5H1005M1008 566.5H1011M1014 566.5H1017M1020 566.5H1023M1026 566.5H1029M1032 566.5H1035M1038 566.5H1041M1044 566.5H1047M1050 566.5H1053M1056 566.5H1059M1062 566.5H1065M1068 566.5H1071M1074 566.5H1077M1080 566.5H1083M1086 566.5H1089M1092 566.5H1095M1098 566.5H1101M1104 566.5H1107M1110 566.5H1113M1116 566.5H1119M1122 566.5H1125M1128 566.5H1131M1134 566.5H1137M1140 566.5H1143M1146 566.5H1149M1152 566.5H1155M1158 566.5H1161M1164 566.5H1167M1170 566.5H1173M1176 566.5H1179M1182 566.5H1185M1188 566.5H1191M1194 566.5H1197M1200 566.5H1203M1206 566.5H1209M1212 566.5H1215M1218 566.5H1221M1224 566.5H1227M1230 566.5H1233M1236 566.5H1239M1242 566.5H1245M1248 566.5H1251M1254 566.5H1257M1260 566.5H1263M1266 566.5H1269M1272 566.5H1275M1278 566.5H1281M1284 566.5H1287M1290 566.5H1293M1296 566.5H1299M1302 566.5H1305M1308 566.5H1311M1314 566.5H1317M1320 566.5H1323M1326 566.5H1329M1332 566.5H1335M1338 566.5H1341M1344 566.5H1347M1350 566.5H1353M1356 566.5H1359M1362 566.5H1365M1368 566.5H1371M1374 566.5H1377M1380 566.5H1383M1386 566.5H1389M1392 566.5H1395M1398 566.5H1401M1404 566.5H1407M1410 566.5H1413M1416 566.5H1419M1422 566.5H1425M1428 566.5H1431M1434 566.5H1437M1440 566.5H1443" stroke="#778899" stroke-width="1" fill="none"/>
<path d="M6 739.5H9M12 739.5H15M18 739.5H21M24 739.5H27M30 739.5H33M36 739.5H39M42 739.5H45M48 739.5H51M54 739.5H57M60 739.5H63M66 739.5H69M72 739.5H75M78 739.5H81M84 739.5H87M90 739.5H93M96 739.5H99M102 739.5H105M108 739.5H111M114 739.5H117M120 739.5H123M126 739.5H129M132 739.5H135M138 739.5H141M144 739.5H147M150 739.5H153M156 739.5H159M162 739.5H165M168 739.5H171M174 739.5H177M180 739.5H183M186 739.5H189M192 739.5H195M198 739.5H201M204 739.5H207M210 739.5H213M216 739.5H219M222 739.5H225M228 739.5H231M234 739.5H237M240 739.5H243M246 739.5H249M252 739.5H255M258 739.5H261M264 739.5H267M270 739.5H273M276 739.5H279M282 739.5H285M288 739.5H291M294 739.5H297M300 739.5H303M306 739.5H309M312 739.5H315M318 739.5H321M324 739.5H327M330 739.5H333M336 739.5H339M342 739.5H345M348 739.5H351M354 739.5H357M360 739.5H363M366 739.5H369M372 739.5H375M378 739.5H381M384 739.5H387M390 739.5H393M396 739.5H399M402 739.5H405M408 739.5H411M414 739.5H417M420 739.5H423M426 739.5H429M432 739.5H435M438 739.5H441M444 739.5H447M450 739.5H453M456 739.5H459M462 739.5H465M468 739.5H471M474 739.5H477M480 739.5H483M486 739.5H489M492 739.5H495M498 739.5H501M504 739.5H507M510 739.5H513M516 739.5H519M522 739.5H525M528 739.5H531M534 739.5H537M540 739.5H543M546 739.5H549M552 739.5H555M558 739.5H561M564 739.5H567M570 739.5H573M576 739.5H579M582 739.5H585M588 739.5H591M594 739.5H597M600 739.5H603M606 739.5H609M612 739.5H615M618 739.5H621M624 739.5H627M630 739.5H633M636 739.5H639M642 739.5H645M648 739.5H651M654 739.5H657M660 739.5H663M666 739.5H669M672 739.5H675M678 739.5H681M684 739.5H687M690 739.5H693M696 739.5H699M702 739.5H705M708 739.5H711M714 739.5H717M720 739.5H723M726 739.5H729M732 739.5H735M738 739.5H741M744 739.5H747M750 739.5H753M756 739.5H759M762 739.5H765M768 739.5H771M774 739.5H777M780 739.5H783M786 739.5H789M792 739.5H795M798 739.5H801M804 739.5H807M810 739.5H813M816 739.5H819M822 739.5H825M828 739.5H831M834 739.5H837M840 739.5H843M846 739.5H849M852 739.5H855M858 739.5H861M864 739.5H867M870 739.5H873M876 739.5H879M882 739.5H885M888 739.5H891M894 739.5H897M900 739.5H903M906 739.5H909M912 739.5H915M918 739.5H921M924 739.5H927M930 739.5H933M936 739.5H939M942 739.5H945M948 739.5H951M954 739.5H957M960 739.5H963M966 739.5H969M972 739.5H975M978 739.5H981M984 739.5H987M990 739.5H993M996 739.5H999M1002 739.5H1005M1008 739.5H1011M1014 739.5H1017M1020 739.5H1023M1026 739.5H1029M1032 739.5H1035M1038 739.5H1041M1044 739.5H1047M1050 739.5H1053M1056 739.5H1059M1062 739.5H1065M1068 739.5H1071M1074 739.5H1077M1080 739.5H1083M1086 739.5H1089M1092 739.5H1095M1098 739.5H1101M1104 739.5H1107M1110 739.5H1113M1116 739.5H1119M1122 739.5H1125M1128 739.5H1131M1134 739.5H1137M1140 739.5H1143M1146 739.5H1149M1152 739.5H1155M1158 739.5H1161M1164 739.5H1167M1170 739.5H1173M1176 739.5H1179M1182 739.5H1185M1188 739.5H1191M1194 739.5H1197M1200 739.5H1203M1206 739.5H1209M1212 739.5H1215M1218 739.5H1221M1224 739.5H1227M1230 739.5H1233M1236 739.5H1239M1242 739.5H1245M1248 739.5H1251M1254 739.5H1257M1260 739.5H1263M1266 739.5H1269M1272 739.5H1275M1278 739.5H1281M1284 739.5H1287M1290 739.5H1293M1296 739.5H1299M1302 739.5H1305M1308 739.5H1311M1314 739.5H1317M1320 739.5H1323M1326 739.5H1329M1332 739.5H1335M1338 739.5H1341M1344 739.5H1347M1350 739.5H1353M1356 739.5H1359M1362 739.5H1365M1368 739.5H1371M1374 739.5H1377M1380 739.5H1383M1386 739.5H1389M1392 739.5H1395M1398 739.5H1401M1404 739.5H1407M1410 739.5H1413M1416 739.5H1419M1422 739.5H1425M1428 739.5H1431M1434 739.5H1437M1440 739.5H1443" stroke="#778899" stroke-width="1" fill="none"/>
<path d="M69.5 5V7M69.5 10V13M69.5 16V19M69.5 22V25M69.5 28V31M69.5 34V37M69.5 40V43M69.5 46V49M69.5 52V55M69.5 58V61M69.5 64V67M69.5 70V73M69.5 76V79M69.5 82V85M69.5 88V91M69.5 94V97M69.5 100V103M69.5 106V109M69.5 112V115M69.5 118V121M69.5 124V127M69.5 130V133M69.5 136V139M69.5 142V145M69.5 148V151M69.5 154V157M69.5 160V163M69.5 166V169M69.5 172V175M69.5 178V181M69.5 184V187M69.5 190V193M69.5 196V199M69.5 202V205M69.5 208V211M69.5 214V217M69.5 220V223M69.5 226V229M69.5 232V235M69.5 238V241M69.5 244V247M69.5 250V253M69.5 256V259M69.5 262V265M69.5 268V271M69.5 274V277M69.5 280V283M69.5 286V289M69.5 292V295M69.5 298V301M69.5 304V307M69.5 310V313M69.5 316V319M69.5 322V325M69.5 328V331M69.5 334V337M69.5 340V343M69.5 346V349M69.5 352V355M69.5 358V361M69.5 364V367M69.5 370V373M69.5 376V379M69.5 382V385M69.5 388V391M69.5 394V397M69.5 400V403M69.5 406V409M69.5 412V415M69.5 418V421M69.5 424V427M69.5 430V433M69.5 436V439M69.5 442V445M69.5 448V451M69.5 454V457M69.5 460V463M69.5 466V469M69.5 472V475M69.5 478V481M69.5 484V487M69.5 490V493M69.5 496V499M69.5 502V505M69.5 508V511M69.5 514V517M69.5 520V523M69.5 526V529M69.5 532V535M69.5 538V541M69.5 544V547M69.5 550V553M69.5 556V559M69.5 562V565M69.5 568V571M69.5 574V577M69.5 580V583M69.5 586V589M69.5 592V595M69.5 598V601" stroke="#778899" stroke-width="1" fill="none"/>
<path d="M69.5 604V607M69.5 610V613M69.5 616V619M69.5 622V625M69.5 628V631M69.5 634V637M69.5 640V643M69.5 646V649M69.5 652V655M69.5 658V661M69.5 664V667M69.5 670V673M69.5 676V679M69.5 682V685M69.5 688V691M69.5 694V697M69.5 700V703M69.5 706V709M69.5 712V715M69.5 718V721M69.5 724V727M69.5 730V733M69.5 736V739M69.5 742V745M69.5 748V751M69.5 754V757M69.5 760V763M69.5 766V769M69.5 772V775M69.5 778V781" stroke="#778899" stroke-width="1" fill="none"/>
<path d="M133.5 5V7M133.5 10V13M133.5 16V19M133.5 22V25M133.5 28V31M133.5 34V37M133.5 40V43M133.5 46V49M133.5 52V55M133.5 58V61M133.5 64V67M133.5 70V73M133.5 76V79M133.5 82V85M133.5 88V91M133.5 94V97M133.5 100V103M133.5 106V109M133.5 112V115M133.5 118V121M133.5 124V127M133.5 130V133M133.5 136V139M133.5 142V145M133.5 148V151M133.5 154V157M133.5 160V163M133.5 166V169M133.5 172V175M133.5 178V181M133.5 184V187M133.5 190V193M133.5 196V199M133.5 202V205M133.5 208V211M133.5 214V217M133.5 220V223M133.5 226V229M133.5 232V235M133.5 238V241M133.5 244V247M133.5 250V253M133.5 256V259M133.5 262V265M133.5 268V271M133.5 274V277M133.5 280V283M133.5 286V289M133.5 292V295M133.5 298V301M133.5 304V307M133.5 310V313M133.5 316V319M133.5 322V325M133.5 328V331M133.5 334V337M133.5 340V343M133.5 346V349M133.5 352V355M133.5 358V361M133.5 364V367M133.5 370V373M133.5 376V379M133.5 382V385M133.5 388V391M133.5 394V397M133.5 400V403M133.5 406V409M133.5 412V415M133.5 418V421M133.5 424V427M133.5 430V433M133.5 436V439M133.5 442V445M133.5 448V451M133.5 454V457M133.5 460V463M133.5 466V469M133.5 472V475M133.5 478V481M133.5 484V487M133.5 490V493M133.5 496V499M133.5 502V505M133.5 508V511M133.5 514V517M133.5 520V523M133.5 526V529M133.5 532V535M133.5 538V541M133.5 544V547M133.5 550V553M133.5 556V559M133.5 562V565M133.5 568V571M133.5 574V577M133.5 580V583M133.5 586V589M133.5 592V595M133.5 598V601" stroke="#778899" stroke-width="1" fill="none"/>
<path d="M133.5 604V607M133.5 610V613M133.5 616V619M133.5 622V625M133.5 628V631M133.5 634V637M133.5 640V643M133.5 646V649M133.5 652V655M133.5 658V661M133.5 664V667M133.5 670V673M133.5 676V679M133.5 682V685M133.5 688V691M133.5 694V697M133.5 700V703M133.5 706V709M133.5 712V715M133.5 718V721M133.5 724V727M133.5 730V733M133.5 736V739M133.5 742V745M133.5 748V751M133.5 754V757M133.5 760V763M133.5 766V769M133.5 772V775M133.5 778V781" stroke="#778899" stroke-width="1" fill="none"/>
<path d="M197.5 5V7M197.5 10V13M197.5 16V19M197.5 22V25M197.5 28V31M197.5 34V37M197.5 40V43M197.5 46V49M197.5 52V55M197.5 58V61M197.5 64V67M197.5 70V73M197.5 76V79M197.5 82V85M197.5 88V91M197.5 94V97M197.5 100V103M197.5 106V109M197.5 112V115M197.5 118V121M197.5 124V127M197.5 130V133M197.5 136V139M197.5 142V145M197.5 148V151M197.5 154V157M197.5 160V163M197.5 166V169M197.5 172V175M197.5 178V181M197.5 184V187M197.5 190V193M197.5 196V199M197.5 202V205M197.5 208V211M197.5 214V217M197.5 220V223M197.5 226V229M197.5 232V235M197.5 238V241M197.5 244V247M197.5 250V253M197.5 256V259M197.5 262V265M197.5 268V271M197.5 274V277M197.5 280V283M197.5 286V289M197.5 292V295M197.5 298V301M197.5 304V307M197.5 310V313M197.5 316V319M197.5 322V325M197.5 328V331M197.5 334V337M197.5 340V343M197.5 346V349M197.5 352V355M197.5 358V361M197.5 364V367M197.5 370V373M197.5 376V379M197.5 382V385M197.5 388V391M197.5 394V397M197.5 400V403M197.5 406V409M197.5 412V415M197.5 418V421M197.5 424V427M197.5 430V433M197.5 436V439M197.5 442V445M197.5 448V451M197.5 454V457M197.5 460V463M197.5 466V469M197.5 472V475M197.5 478V481M197.5 484V487M197.5 490V493M197.5 496V499M197.5 502V505M197.5 508V511M197.5 514V517M197.5 520V523M197.5 526V529M197.5 532V535M197.5 538V541M197.5 544V547M197.5 550V553M197.5 556V559M197.5 562V565M197.5 568V571M197.5 574V577M197.5 580V583M197.5 586V589M197.5 592V595M197.5 598V601" stroke="#778899" stroke-width="1" fill="none"/>
<path d="M197.5 604V607M197.5 610V613M197.5 616V619M197.5 622V625M197.5 628V631M197.5 634V637M197.5 640V643M197.5 646V649M197.5 652V655M197.5 658V661M197.5 664V667M197.5 670V673M197.5 676V679M197.5 682V685M197.5 688V691M197.5 694V697M197.5 700V703M197.5 706V709M197.5 712V715M197.5 718V721M197.5 724V727M197.5 730V733M197.5 736V739M197.5 742V745M197.5 748V751M197.5 754V757M197.5 760V763M197.5 766V769M197.5 772V775M197.5 778V781" stroke="#778899" stroke-width="1" fill="none"/>
<path d="M261.5 5V7M261.5 10V13M261.5 16V19M261.5 22V25M261.5 28V31M261.5 34V37M261.5 40V43M261.5 46V49M261.5 52V55M261.5 58V61M261.5 64V67M261.5 70V73M261.5 76V79M261.5 82V85M261.5 88V91M261.5 94V97M261.5 100V103M261.5 106V109M261.5 112V115M261.5 118V121M261.5 124V127M261.5 130V133M261.5 136V139M261.5 142V145M261.5 148V151M261.5 154V157M261.5 160V163M261.5 166V169M261.5 172V175M261.5 178V181M261.5 184V187M261.5 190V193M261.5 196V199M261.5 202V205M261.5 208V211M261.5 214V217M261.5 220V223M261.5 226V229M261.5 232V235M261.5 238V241M261.5 244V247M261.5 250V253M261.5 256V259M261.5 262V265M261.5 268V271M261.5 274V277M261.5 280V283M261.5 286V289M261.5 292V295M261.5 298V301M261.5 304V307M261.5 310V313M261.5 316V319M261.5 322V325M261.5 328V331M261.5 334V337M261.5 340V343M261.5 346V349M261.5 352V355M261.5 358V361M261.5 364V367M261.5 370V373M261.5 376V379M261.5 382V385M261.5 388V391M261.5 394V397M261.5 400V403M261.5 406V409M261.5 412V415M261.5 418V421M261.5 424V427M261.5 430V433M261.5 436V439M261.5 442V445M261.5 448V451M261.5 454V457M261.5 460V463M261.5 466V469M261.5 472V475M261.5 478V481M261.5 484V487M261.5 490V493M261.5 496V499M261.5 502V505M261.5 508V511M261.5 514V517M261.5 520V523M261.5 526V529M261.5 532V535M261.5 538V541M261.5 544V547M261.5 550V553M261.5 556V559M261.5 562V565M261.5 568V571M261.5 574V577M261.5 580V583M261.5 586V589M261.5 592V595M261.5 598V601" stroke="#778899" stroke-width="1" fill="none"/>
<path d="M261.5 604V607M261.5 610V613M261.5 616V619M261.5 622V625M261.5 628V631M261.5 634V637M261.5 640V643M261.5 646V649M261.5 652V655M261.5 658V661M261.5 664V667M261.5 670V673M261.5 676V679M261.5 682V685M261.5 688V691M261.5 694V697M261.5 700V703M261.5 706V709M261.5 712V715M261.5 718V721M261.5 724V727M261.5 730V733M261.5 736V739M261.5 742V745M261.5 748V751M261.5 754V757M261.5 760V763M261.5 766V769M261.5 772V775M261.5 778V781" stroke="#778899" stroke-width="1" fill="none"/>
<path d="M325.5 5V7M325.5 10V13M325.5 16V19M325.5 22V25M325.5 28V31M325.5 34V37M325.5 40V43M325.5 46V49M325.5 52V55M325.5 58V61M325.5 64V67M325.5 70V73M325.5 76V79M325.5 82V85M325.5 88V91M325.5 94V97M325.5 100V103M325.5 106V109M325.5 112V115M325.5 118V121M325.5 124V127M325.5 130V133M325.5 136V139M325.5 142V145M325.5 148V151M325.5 154V157M325.5 160V163M325.5 166V169M325.5 172V175M325.5 178V181M325.5 184V187M325.5 190V193M325.5 196V199M325.5 202V205M325.5 208V211M325.5 214V217M325.5 220V223M325.5 226V229M325.5 232V235M325.5 238V241M325.5 244V247M325.5 250V253M325.5 256V259M325.5 262V265M325.5 268V271M325.5 274V277M325.5 280V283M325.5 286V289M325.5 292V295M325.5 298V301M325.5 304V307M325.5 310V313M325.5 316V319M325.5 322V325M325.5 328V331M325.5 334V337M325.5 340V343M325.5 346V349M325.5 352V355M325.5 358V361M325.5 364V367M325.5 370V373M325.5 376V379M325.5 382V385M325.5 388V391M325.5 394V397M325.5 400V403M325.5 406V409M325.5 412V415M325.5 418V421M325.5 424V427M325.5 430V433M325.5 436V439M325.5 442V445M325.5 448V451M325.5 454V457M325.5 460V463M325.5 466V469M325.5 472V475M325.5 478V481M325.5 484V487M325.5 490V493M325.5 496V499M325.5 502V505M325.5 508V511M325.5 514V517M325.5 520V523M325.5 526V529M325.5 532V535M325.5 538V541M325.5 544V547M325.5 550V553M325.5 556V559M325.5 562V565M325.5 568V571M325.5 574V577M325.5 580V583M325.5 586V589M325.5 592V595M325.5 598V601" stroke="#778899" stroke-width="1" fill="none"/>
<path d="M325.5 604V607M325.5 610V613M325.5 616V619M325.5 622V625M325.5 628V631M325.5 634V637M325.5 640V643M325.5 646V649M325.5 652V655M325.5 658V661M325.5 664V667M325.5 670V673M325.5 676V679M325.5 682V685M325.5 688V691M325.5 694V697M325.5 700V703M325.5 706V709M325.5 712V715M325.5 718V721M325.5 724V727M325.5 730V733M325.5 736V739M325.5 742V745M325.5 748V751M325.5 754V757M325.5 760V763M325.5 766V769M325.5 772V775M325.5 778V781" stroke="#778899" stroke-width="1" fill="none"/>
<path d="M389.5 5V7M389.5 10V13M389.5 16V19M389.5 22V25M389.5 28V31M389.5 34V37M389.5 40V43M389.5 46V49M389.5 52V55M389.5 58V61M389.5 64V67M389.5 70V73M389.5 76V79M389.5 82V85M389.5 88V91M389.5 94V97M389.5 100V103M389.5 106V109M389.5 112V115M389.5 118V121M389.5 124V127M389.5 130V133M389.5 136V139M389.5 142V145M389.5 148V151M389.5 154V157M389.5 160V163M389.5 166V169M389.5 172V175M389.5 178V181M389.5 184V187M389.5 190V193M389.5 196V199M389.5 202V205M389.5 208V211M389.5 214V217M389.5 220V223M389.5 226V229M389.5 232V235M389.5 238V241M389.5 244V247M389.5 250V253M389.5 256V259M389.5 262V265M389.5 268V271M389.5 274V277M389.5 280V283M389.5 286V289M389.5 292V295M389.5 298V301M389.5 304V307M389.5 310V313M389.5 316V319M389.5 322V325M389.5 328V331M389.5 334V337M389.5 340V343M389.5 346V349M389.5 352V355M389.5 358V361M389.5 364V367M389.5 370V373M389.5 376V379M389.5 382V385M389.5 388V391M389.5 394V397M389.5 400V403M389.5 406V409M389.5 412V415M389.5 418V421M389.5 424V427M389.5 430V433M389.5 436V439M389.5 442V445M389.5 448V451M389.5 454V457M389.5 460V463M389.5 466V469M389.5 472V475M389.5 478V481M389.5 484V487M389.5 490V493M389.5 496V499M389.5 502V505M389.5 508V511M389.5 514V517M389.5 520V523M389.5 526V529M389.5 532V535M389.5 538V541M389.5 544V547M389.5 550V553M389.5 556V559M389.5 562V565M389.5 568V571M389.5 574V577M389.5 580V583M389.5 586V589M389.5 592V595M389.5 598V601" stroke="#778899" stroke-width="1" fill="none"/>
<path d="M389.5 604V607M389.5 610V613M389.5 616V619M389.5 622V625M389.5 628V631M389.5 634V637M389.5 640V643M389.5 646V649M389.5 652V655M389.5 658V661M389.5 664V667M389.5 670V673M389.5 676V679M389.5 682V685M389.5 688V691M389.5 694V697M389.5 700V703M389.5 706V709M389.5 712V715M389.5 718V721M389.5 724V727M389.5 730V733M389.5 736V739M389.5 742V745M389.5 748V751M389.5 754V757M389.5 760V763M389.5 766V769M389.5 772V775M389.5 778V781" stroke="#778899" stroke-width="1" fill="none"/>
<path d="M453.5 5V7M453.5 10V13M453.5 16V19M453.5 22V25M453.5 28V31M453.5 34V37M453.5 40V43M453.5 46V49M453.5 52V55M453.5 58V61M453.5 64V67M453.5 70V73M453.5 76V79M453.5 82V85M453.5 88V91M453.5 94V97M453.5 100V103M453.5 106V109M453.5 112V115M453.5 118V121M453.5 124V127M453.5 130V133M453.5 136V139M453.5 142V145M453.5 148V151M453.5 154V157M453.5 160V163M453.5 166V169M453.5 172V175M453.5 178V181M453.5 184V187M453.5 190V193M453.5 196V199M453.5 202V205M453.5 208V211M453.5 214V217M453.5 220V223M453.5 226V229M453.5 232V235M453.5 238V241M453.5 244V247M453.5 250V253M453.5 256V259M453.5 262V265M453.5 268V271M453.5 274V277M453.5 280V283M453.5 286V289M453.5 292V295M453.5 298V301M453.5 304V307M453.5 310V313M453.5 316V319M453.5 322V325M453.5 328V331M453.5 334V337M453.5 340V343M453.5 346V349M453.5 352V355M453.5 358V361M453.5 364V367M453.5 370V373M453.5 376V379M453.5 382V385M453.5 388V391M453.5 394V397M453.5 400V403M453.5 406V409M453.5 412V415M453.5 418V421M453.5 424V427M453.5 430V433M453.5 436V439M453.5 442V445M453.5 448V451M453.5 454V457M453.5 460V463M453.5 466V469M453.5 472V475M453.5 478V481M453.5 484V487M453.5 490V493M453.5 496V499M453.5 502V505M453.5 508V511M453.5 514V517M453.5 520V523M453.5 526V529M453.5 532V535M453.5 538V541M453.5 544V547M453.5 550V553M453.5 556V559M453.5 562V565M453.5 568V571M453.5 574V577M453.5 580V583M453.5 586V589M453.5 592V595M453.5 598V601" stroke="#778899" stroke-width="1" fill="none"/>
<path d="M453.5 604V607M453.5 610V613M453.5 616V619M453.5 622V625M453.5 628V631M453.5 634V637M453.5 640V643M453.5 646V649M453.5 652V655M453.5 658V661M453.5 664V667M453.5 670V673M453.5 676V679M453.5 682V685M453.5 688V691M453.5 694V697M453.5 700V703M453.5 706V709M453.5 712V715M453.5 718V721M453.5 724V727M453.5 730V733M453.5 736V739M453.5 742V745M453.5 748V751M453.5 754V757M453.5 760V763M453.5 766V769M453.5 772V775M453.5 778V781" stroke="#778899" stroke-width="1" fill="none"/>
<path d="M517.5 5V7M517.5 10V13M517.5 16V19M517.5 22V25M517.5 28V31M517.5 34V37M517.5 40V43M517.5 46V49M517.5 52V55M517.5 58V61M517.5 64V67M517.5 70V73M517.5 76V79M517.5 82V85M517.5 88V91M517.5 94V97M517.5 100V103M517.5 106V109M517.5 112V115M517.5 118V121M517.5 124V127M517.5 130V133M517.5 136V139M517.5 142V145M517.5 148V151M517.5 154V157M517.5 160V163M517.5 166V169M517.5 172V175M517.5 178V181M517.5 184V187M517.5 190V193M517.5 196V199M517.5 202V205M517.5 208V211M517.5 214V217M517.5 220V223M517.5 226V229M517.5 232V235M517.5 238V241M517.5 244V247M517.5 250V253M517.5 256V259M517.5 262V265M517.5 268V271M517.5 274V277M517.5 280V283M517.5 286V289M517.5 292V295M517.5 298V301M517.5 304V307M517.5 310V313M517.5 316V319M517.5 322V325M517.5 328V331M517.5 334V337M517.5 340V343M517.5 346V349M517.5 352V355M517.5 358V361M517.5 364V367M517.5 370V373M517.5 376V379M517.5 382V385M517.5 388V391M517.5 394V397M517.5 400V403M517.5 406V409M517.5 412V415M517.5 418V421M517.5 424V427M517.5 430V433M517.5 436V439M517.5 442V445M517.5 448V451M517.5 454V457M517.5 460V463M517.5 466V469M517.5 472V475M517.5 478V481M517.5 484V487M517.5 490V493M517.5 496V499M517.5 502V505M517.5 508V511M517.5 514V517M517.5 520V523M517.5 526V529M517.5 532V535M517.5 538V541M517.5 544V547M517.5 550V553M517.5 556V559M517.5 562V565M517.5 568V571M517.5 574V577M517.5 580V583M517.5 586V589M517.5 592V595M517.5 598V601" stroke="#778899" stroke-width="1" fill="none"/>
<path d="M517.5 604V607M517.5 610V613M517.5 616V619M517.5 622V625M517.5 628V631M517.5 634V637M517.5 640V643M517.5 646V649M517.5 652V655M517.5 658V661M517.5 664V667M517.5 670V673M517.5 676V679M517.5 682V685M517.5 688V691M517.5 694V697M517.5 700V703M517.5 706V709M517.5 712V715M517.5 718V721M517.5 724V727M517.5 730V733M517.5 736V739M517.5 742V745M517.5 748V751M517.5 754V757M517.5 760V763M517.5 766V769M517.5 772V775M517.5 778V781" stroke="#778899" stroke-width="1" fill="none"/>
<path d="M581.5 5V7M581.5 10V13M581.5 16V19M581.5 22V25M581.5 28V31M581.5 34V37M581.5 40V43M581.5 46V49M581.5 52V55M581.5 58V61M581.5 64V67M581.5 70V73M581.5 76V79M581.5 82V85M581.5 88V91M581.5 94V97M581.5 100V103M581.5 106V109M581.5 112V115M581.5 118V121M581.5 124V127M581.5 130V133M581.5 136V139M581.5 142V145M581.5 148V151M581.5 154V157M581.5 160V163M581.5 166V169M581.5 172V175M581.5 178V181M581.5 184V187M581.5 190V193M581.5 196V199M581.5 202V205M581.5 208V211M581.5 214V217M581.5 220V223M581.5 226V229M581.5 232V235M581.5 238V241M581.5 244V247M581.5 250V253M581.5 256V259M581.5 262V265M581.5 268V271M581.5 274V277M581.5 280V283M581.5 286V289M581.5 292V295M581.5 298V301M581.5 304V307M581.5 310V313M581.5 316V319M581.5 322V325M581.5 328V331M581.5 334V337M581.5 340V343M581.5 346V349M581.5 352V355M581.5 358V361M581.5 364V367M581.5 370V373M581.5 376V379M581.5 382V385M581.5 388V391M581.5 394V397M581.5 400V403M581.5 406V409M581.5 412V415M581.5 418V421M581.5 424V427M581.5 430V433M581.5 436V439M581.5 442V445M581.5 448V451M581.5 454V457M581.5 460V463M581.5 466V469M581.5 472V475M581.5 478V481M581.5 484V487M581.5 490V493M581.5 496V499M581.5 502V505M581.5 508V511M581.5 514V517M581.5 520V523M581.5 526V529M581.5 532V535M581.5 538V541M581.5 544V547M581.5 550V553M581.5 556V559M581.5 562V565M581.5 568V571M581.5 574V577M581.5 580V583M581.5 586V589M581.5 592V595M581.5 598V601" stroke="#778899" stroke-width="1" fill="none"/>
<path d="M581.5 604V607M581.5 610V613M581.5 616V619M581.5 622V625M581.5 628V631M581.5 634V637M581.5 640V643M581.5 646V649M581.5 652V655M581.5 658V661M581.5 664V667M581.5 670V673M581.5 676V679M581.5 682V685M581.5 688V691M581.5 694V697M581.5 700V703M581.5 706V709M581.5 712V715M581.5 718V721M581.5 724V727M581.5 730V733M581.5 736V739M581.5 742V745M581.5 748V751M581.5 754V757M581.5 760V763M581.5 766V769M581.5 772V775M581.5 778V781" stroke="#778899" stroke-width="1" fill="none"/>
<path d="M645.5 5V7M645.5 10V13M645.5 16V19M645.5 22V25M645.5 28V31M645.5 34V37M645.5 40V43M645.5 46V49M645.5 52V55M645.5 58V61M645.5 64V67M645.5 70V73M645.5 76V79M645.5 82V85M645.5 88V91M645.5 94V97M645.5 100V103M645.5 106V109M645.5 112V115M645.5 118V121M645.5 124V127M645.5 130V133M645.5 136V139M645.5 142V145M645.5 148V151M645.5 154V157M645.5 160V163M645.5 166V169M645.5 172V175M645.5 178V181M645.5 184V187M645.5 190V193M645.5 196V199M645.5 202V205M645.5 208V211M645.5 214V217M645.5 220V223M645.5 226V229M645.5 232V235M645.5 238V241M645.5 244V247M645.5 250V253M645.5 256V259M645.5 262V265M645.5 268V271M645.5 274V277M645.5 280V283M645.5 286V289M645.5 292V295M645.5 298V301M645.5 304V307M645.5 310V313M645.5 316V319M645.5 322V325M645.5 328V331M645.5 334V337M645.5 340V343M645.5 346V349M645.5 352V355M645.5 358V361M645.5 364V367M645.5 370V373M645.5 376V379M645.5 382V385M645.5 388V391M645.5 394V397M645.5 400V403M645.5 406V409M645.5 412V415M645.5 418V421M645.5 424V427M645.5 430V433M645.5 436V439M645.5 442V445M645.5 448V451M645.5 454V457M645.5 460V463M645.5 466V469M645.5 472V475M645.5 478V481M645.5 484V487M645.5 490V493M645.5 496V499M645.5 502V505M645.5 508V511M645.5 514V517M645.5 520V523M645.5 526V529M645.5 532V535M645.5 538V541M645.5 544V547M645.5 550V553M645.5 556V559M645.5 562V565M645.5 568V571M645.5 574V577M645.5 580V583M645.5 586V589M645.5 592V595M645.5 598V601" stroke="#778899" stroke-width="1" fill="none"/>
<path d="M645.5 604V607M645.5 610V613M645.5 616V619M645.5 622V625M645.5 628V631M645.5 634V637M645.5 640V643M645.5 646V649M645.5 652V655M645.5 658V661M645.5 664V667M645.5 670V673M645.5 676V679M645.5 682V685M645.5 688V691M645.5 694V697M645.5 700V703M645.5 706V709M645.5 712V715M645.5 718V721M645.5 724V727M645.5 730V733M645.5 736V739M645.5 742V745M645.5 748V751M645.5 754V757M645.5 760V763M645.5 766V769M645.5 772V775M645.5 778V781" stroke="#778899" stroke-width="1" fill="none"/>
<path d="M709.5 5V7M709.5 10V13M709.5 16V19M709.5 22V25M709.5 28V31M709.5 34V37M709.5 40V43M709.5 46V49M709.5 52V55M709.5 58V61M709.5 64V67M709.5 70V73M709.5 76V79M709.5 82V85M709.5 88V91M709.5 94V97M709.5 100V103M709.5 106V109M709.5 112V115M709.5 118V121M709.5 124V127M709.5 130V133M709.5 136V139M709.5 142V145M709.5 148V151M709.5 154V157M709.5 160V163M709.5 166V169M709.5 172V175M709.5 178V181M709.5 184V187M709.5 190V193M709.5 196V199M709.5 202V205M709.5 208V211M709.5 214V217M709.5 220V223M709.5 226V229M709.5 232V235M709.5 238V241M709.5 244V247M709.5 250V253M709.5 256V259M709.5 262V265M709.5 268V271M709.5 274V277M709.5 280V283M709.5 286V289M709.5 292V295M709.5 298V301M709.5 304V307M709.5 310V313M709.5 316V319M709.5 322V325M709.5 328V331M709.5 334V337M709.5 340V343M709.5 346V349M709.5 352V355M709.5 358V361M709.5 364V367M709.5 370V373M709.5 376V379M709.5 382V385M709.5 388V391M709.5 394V397M709.5 400V403M709.5 406V409M709.5 412V415M709.5 418V421M709.5 424V427M709.5 430V433M709.5 436V439M709.5 442V445M709.5 448V451M709.5 454V457M709.5 460V463M709.5 466V469M709.5 472V475M709.5 478V481M709.5 484V487M709.5 490V493M709.5 496V499M709.5 502V505M709.5 508V511M709.5 514V517M709.5 520V523M709.5 526V529M709.5 532V535M709.5 538V541M709.5 544V547M709.5 550V553M709.5 556V559M709.5 562V565M709.5 568V571M709.5 574V577M709.5 580V583M709.5 586V589M709.5 592V595M709.5 598V601" stroke="#778899" stroke-width="1" fill="none"/>
<path d="M709.5 604V607M709.5 610V613M709.5 616V619M709.5 622V625M709.5 628V631M709.5 634V637M709.5 640V643M709.5 646V649M709.5 652V655M709.5 658V661M709.5 664V667M709.5 670V673M709.5 676V679M709.5 682V685M709.5 688V691M709.5 694V697M709.5 700V703M709.5 706V709M709.5 712V715M709.5 718V721M709.5 724V727M709.5 730V733M709.5 736V739M709.5 742V745M709.5 748V751M709.5 754V757M709.5 760V763M709.5 766V769M709.5 772V775M709.5 778V781" stroke="#778899" stroke-width="1" fill="none"/>
<path d="M773.5 5V7M773.5 10V13M773.5 16V19M773.5 22V25M773.5 28V31M773.5 34V37M773.5 40V43M773.5 46V49M773.5 52V55M773.5 58V61M773.5 64V67M773.5 70V73M773.5 76V79M773.5 82V85M773.5 88V91M773.5 94V97M773.5 100V103M773.5 106V109M773.5 112V115M773.5 118V121M773.5 124V127M773.5 130V133M773.5 136V139M773.5 142V145M773.5 148V151M773.5 154V157M773.5 160V163M773.5 166V169M773.5 172V175M773.5 178V181M773.5 184V187M773.5 190V193M773.5 196V199M773.5 202V205M773.5 208V211M773.5 214V217M773.5 220V223M773.5 226V229M773.5 232V235M773.5 238V241M773.5 244V247M773.5 250V253M773.5 256V259M773.5 262V265M773.5 268V271M773.5 274V277M773.5 280V283M773.5 286V289M773.5 292V295M773.5 298V301M773.5 304V307M773.5 310V313M773.5 316V319M773.5 322V325M773.5 328V331M773.5 334V337M773.5 340V343M773.5 346V349M773.5 352V355M773.5 358V361M773.5 364V367M773.5 370V373M773.5 376V379M773.5 382V385M773.5 388V391M773.5 394V397M773.5 400V403M773.5 406V409M773.5 412V415M773.5 418V421M773.5 424V427M773.5 430V433M773.5 436V439M773.5 442V445M773.5 448V451M773.5 454V457M773.5 460V463M773.5 466V469M773.5 472V475M773.5 478V481M773.5 484V487M773.5 490V493M773.5 496V499M773.5 502V505M773.5 508V511M773.5 514V517M773.5 520V523M773.5 526V529M773.5 532V535M773.5 538V541M773.5 544V547M773.5 550V553M773.5 556V559M773.5 562V565M773.5 568V571M773.5 574V577M773.5 580V583M773.5 586V589M773.5 592V595M773.5 598V601" stroke="#778899" stroke-width="1" fill="none"/>
<path d="M773.5 604V607M773.5 610V613M773.5 616V619M773.5 622V625M773.5 628V631M773.5 634V637M773.5 640V643M773.5 646V649M773.5 652V655M773.5 658V661M773.5 664V667M773.5 670V673M773.5 676V679M773.5 682V685M773.5 688V691M773.5 694V697M773.5 700V703M773.5 706V709M773.5 712V715M773.5 718V721M773.5 724V727M773.5 730V733M773.5 736V739M773.5 742V745M773.5 748V751M773.5 754V757M773.5 760V763M773.5 766V769M773.5 772V775M773.5 778V781" stroke="#778899" stroke-width="1" fill="none"/>
<path d="M837.5 5V7M837.5 10V13M837.5 16V19M837.5 22V25M837.5 28V31M837.5 34V37M837.5 40V43M837.5 46V49M837.5 52V55M837.5 58V61M837.5 64V67M837.5 70V73M837.5 76V79M837.5 82V85M837.5 88V91M837.5 94V97M837.5 100V103M837.5 106V109M837.5 112V115M837.5 118V121M837.5 124V127M837.5 130V133M837.5 136V139M837.5 142V145M837.5 148V151M837.5 154V157M837.5 160V163M837.5 166V169M837.5 172V175M837.5 178V181M837.5 184V187M837.5 190V193M837.5 196V199M837.5 202V205M837.5 208V211M837.5 214V217M837.5 220V223M837.5 226V229M837.5 232V235M837.5 238V241M837.5 244V247M837.5 250V253M837.5 256V259M837.5 262V265M837.5 268V271M837.5 274V277M837.5 280V283M837.5 286V289M837.5 292V295M837.5 298V301M837.5 304V307M837.5 310V313M837.5 316V319M837.5 322V325M837.5 328V331M837.5 334V337M837.5 340V343M837.5 346V349M837.5 352V355M837.5 358V361M837.5 364V367M837.5 370V373M837.5 376V379M837.5 382V385M837.5 388V391M837.5 394V397M837.5 400V403M837.5 406V409M837.5 412V415M837.5 418V421M837.5 424V427M837.5 430V433M837.5 436V439M837.5 442V445M837.5 448V451M837.5 454V457M837.5 460V463M837.5 466V469M837.5 472V475M837.5 478V481M837.5 484V487M837.5 490V493M837.5 496V499M837.5 502V505M837.5 508V511M837.5 514V517M837.5 520V523M837.5 526V529M837.5 532V535M837.5 538V541M837.5 544V547M837.5 550V553M837.5 556V559M837.5 562V565M837.5 568V571M837.5 574V577M837.5 580V583M837.5 586V589M837.5 592V595M837.5 598V601" stroke="#778899" stroke-width="1" fill="none"/>
<path d="M837.5 604V607M837.5 610V613M837.5 616V619M837.5 622V625M837.5 628V631M837.5 634V637M837.5 640V643M837.5 646V649M837.5 652V655M837.5 658V661M837.5 664V667M837.5 670V673M837.5 676V679M837.5 682V685M837.5 688V691M837.5 694V697M837.5 700V703M837.5 706V709M837.5 712V715M837.5 718V721M837.5 724V727M837.5 730V733M837.5 736V739M837.5 742V745M837.5 748V751M837.5 754V757M837.5 760V763M837.5 766V769M837.5 772V775M837.5 778V781" stroke="#778899" stroke-width="1" fill="none"/>
<path d="M901.5 5V7M901.5 10V13M901.5 16V19M901.5 22V25M901.5 28V31M901.5 34V37M901.5 40V43M901.5 46V49M901.5 52V55M901.5 58V61M901.5 64V67M901.5 70V73M901.5 76V79M901.5 82V85M901.5 88V91M901.5 94V97M901.5 100V103M901.5 106V109M901.5 112V115M901.5 118V121M901.5 124V127M901.5 130V133M901.5 136V139M901.5 142V145M901.5 148V151M901.5 154V157M901.5 160V163M901.5 166V169M901.5 172V175M901.5 178V181M901.5 184V187M901.5 190V193M901.5 196V199M901.5 202V205M901.5 208V211M901.5 214V217M901.5 220V223M901.5 226V229M901.5 232V235M901.5 238V241M901.5 244V247M901.5 250V253M901.5 256V259M901.5 262V265M901.5 268V271M901.5 274V277M901.5 280V283M901.5 286V289M901.5 292V295M901.5 298V301M901.5 304V307M901.5 310V313M901.5 316V319M901.5 322V325M901.5 328V331M901.5 334V337M901.5 340V343M901.5 346V349M901.5 352V355M901.5 358V361M901.5 364V367M901.5 370V373M901.5 376V379M901.5 382V385M901.5 388V391M901.5 394V397M901.5 400V403M901.5 406V409M901.5 412V415M901.5 418V421M901.5 424V427M901.5 430V433M901.5 436V439M901.5 442V445M901.5 448V451M901.5 454V457M901.5 460V463M901.5 466V469M901.5 472V475M901.5 478V481M901.5 484V487M901.5 490V493M901.5 496V499M901.5 502V505M901.5 508V511M901.5 514V517M901.5 520V523M901.5 526V529M901.5 532V535M901.5 538V541M901.5 544V547M901.5 550V553M901.5 556V559M901.5 562V565M901.5 568V571M901.5 574V577M901.5 580V583M901.5 586V589M901.5 592V595M901.5 598V601" stroke="#778899" stroke-width="1" fill="none"/>
<path d="M901.5 604V607M901.5 610V613M901.5 616V619M901.5 622V625M901.5 628V631M901.5 634V637M901.5 640V643M901.5 646V649M901.5 652V655M901.5 658V661M901.5 664V667M901.5 670V673M901.5 676V679M901.5 682V685M901.5 688V691M901.5 694V697M901.5 700V703M901.5 706V709M901.5 712V715M901.5 718V721M901.5 724V727M901.5 730V733M901.5 736V739M901.5 742V745M901.5 748V751M901.5 754V757M901.5 760V763M901.5 766V769M901.5 772V775M901.5 778V781" stroke="#778899" stroke-width="1" fill="none"/>
<path d="M965.5 5V7M965.5 10V13M965.5 16V19M965.5 22V25M965.5 28V31M965.5 34V37M965.5 40V43M965.5 46V49M965.5 52V55M965.5 58V61M965.5 64V67M965.5 70V73M965.5 76V79M965.5 82V85M965.5 88V91M965.5 94V97M965.5 100V103M965.5 106V109M965.5 112V115M965.5 118V121M965.5 124V127M965.5 130V133M965.5 136V139M965.5 142V145M965.5 148V151M965.5 154V157M965.5 160V163M965.5 166V169M965.5 172V175M965.5 178V181M965.5 184V187M965.5 190V193M965.5 196V199M965.5 202V205M965.5 208V211M965.5 214V217M965.5 220V223M965.5 226V229M965.5 232V235M965.5 238V241M965.5 244V247M965.5 250V253M965.5 256V259M965.5 262V265M965.5 268V271M965.5 274V277M965.5 280V283M965.5 286V289M965.5 292V295M965.5 298V301M965.5 304V307M965.5 310V313M965.5 316V319M965.5 322V325M965.5 328V331M965.5 334V337M965.5 340V343M965.5 346V349M965.5 352V355M965.5 358V361M965.5 364V367M965.5 370V373M965.5 376V379M965.5 382V385M965.5 388V391M965.5 394V397M965.5 400V403M965.5 406V409M965.5 412V415M965.5 418V421M965.5 424V427M965.5 430V433M965.5 436V439M965.5 442V445M965.5 448V451M965.5 454V457M965.5 460V463M965.5 466V469M965.5 472V475M965.5 478V481M965.5 484V487M965.5 490V493M965.5 496V499M965.5 502V505M965.5 508V511M965.5 514V517M965.5 520V523M965.5 526V529M965.5 532V535M965.5 538V541M965.5 544V547M965.5 550V553M965.5 556V559M965.5 562V565M965.5 568V571M965.5 574V577M965.5 580V583M965.5 586V589M965.5 592V595M965.5 598V601" stroke="#778899" stroke-width="1" fill="none"/>
<path d="M965.5 604V607M965.5 610V613M965.5 616V619M965.5 622V625M965.5 628V631M965.5 634V637M965.5 640V643M965.5 646V649M965.5 652V655M965.5 658V661M965.5 664V667M965.5 670V673M965.5 676V679M965.5 682V685M965.5 688V691M965.5 694V697M965.5 700V703M965.5 706V709M965.5 712V715M965.5 718V721M965.5 724V727M965.5 730V733M965.5 736V739M965.5 742V745M965.5 748V751M965.5 754V757M965.5 760V763M965.5 766V769M965.5 772V775M965.5 778V781" stroke="#778899" stroke-width="1" fill="none"/>
<path d="M1029.5 5V7M1029.5 10V13M1029.5 16V19M1029.5 22V25M1029.5 28V31M1029.5 34V37M1029.5 40V43M1029.5 46V49M1029.5 52V55M1029.5 58V61M1029.5 64V67M1029.5 70V73M1029.5 76V79M1029.5 82V85M1029.5 88V91M1029.5 94V97M1029.5 100V103M1029.5 106V109M1029.5 112V115M1029.5 118V121M1029.5 124V127M1029.5 130V133M1029.5 136V139M1029.5 142V145M1029.5 148V151M1029.5 154V157M1029.5 160V163M1029.5 166V169M1029.5 172V175M1029.5 178V181M1029.5 184V187M1029.5 190V193M1029.5 196V199M1029.5 202V205M1029.5 208V211M1029.5 214V217M1029.5 220V223M1029.5 226V229M1029.5 232V235M1029.5 238V241M1029.5 244V247M1029.5 250V253M1029.5 256V259M1029.5 262V265M1029.5 268V271M1029.5 274V277M1029.5 280V283M1029.5 286V289M1029.5 292V295M1029.5 298V301M1029.5 304V307M1029.5 310V313M1029.5 316V319M1029.5 322V325M1029.5 328V331M1029.5 334V337M1029.5 340V343M1029.5 346V349M1029.5 352V355M1029.5 358V361M1029.5 364V367M1029.5 370V373M1029.5 376V379M1029.5 382V385M1029.5 388V391M1029.5 394V397M1029.5 400V403M1029.5 406V409M1029.5 412V415M1029.5 418V421M1029.5 424V427M1029.5 430V433M1029.5 436V439M1029.5 442V445M1029.5 448V451M1029.5 454V457M1029.5 460V463M1029.5 466V469M1029.5 472V475M1029.5 478V481M1029.5 484V487M1029.5 490V493M1029.5 496V499M1029.5 502V505M1029.5 508V511M1029.5 514V517M1029.5 520V523M1029.5 526V529M1029.5 532V535M1029.5 538V541M1029.5 544V547M1029.5 550V553M1029.5 556V559M1029.5 562V565M1029.5 568V571M1029.5 574V577M1029.5 580V583M1029.5 586V589M1029.5 592V595M1029.5 598V601" stroke="#778899" stroke-width="1" fill="none"/>
<path d="M1029.5 604V607M1029.5 610V613M1029.5 616V619M1029.5 622V625M1029.5 628V631M1029.5 634V637M1029.5 640V643M1029.5 646V649M1029.5 652V655M1029.5 658V661M1029.5 664V667M1029.5 670V673M1029.5 676V679M1029.5 682V685M1029.5 688V691M1029.5 694V697M1029.5 700V703M1029.5 706V709M1029.5 712V715M1029.5 718V721M1029.5 724V727M1029.5 730V733M1029.5 736V739M1029.5 742V745M1029.5 748V751M1029.5 754V757M1029.5 760V763M1029.5 766V769M1029.5 772V775M1029.5 778V781" stroke="#778899" stroke-width="1" fill="none"/>
<path d="M1093.5 5V7M1093.5 10V13M1093.5 16V19M1093.5 22V25M1093.5 28V31M1093.5 34V37M1093.5 40V43M1093.5 46V49M1093.5 52V55M1093.5 58V61M1093.5 64V67M1093.5 70V73M1093.5 76V79M1093.5 82V85M1093.5 88V91M1093.5 94V97M1093.5 100V103M1093.5 106V109M1093.5 112V115M1093.5 118V121M1093.5 124V127M1093.5 130V133M1093.5 136V139M1093.5 142V145M1093.5 148V151M1093.5 154V157M1093.5 160V163M1093.5 166V169M1093.5 172V175M1093.5 178V181M1093.5 184V187M1093.5 190V193M1093.5 196V199M1093.5 202V205M1093.5 208V211M1093.5 214V217M1093.5 220V223M1093.5 226V229M1093.5 232V235M1093.5 238V241M1093.5 244V247M1093.5 250V253M1093.5 256V259M1093.5 262V265M1093.5 268V271M1093.5 274V277M1093.5 280V283M1093.5 286V289M1093.5 292V295M1093.5 298V301M1093.5 304V307M1093.5 310V313M1093.5 316V319M1093.5 322V325M1093.5 328V331M1093.5 334V337M1093.5 340V343M1093.5 346V349M1093.5 352V355M1093.5 358V361M1093.5 364V367M1093.5 370V373M1093.5 376V379M1093.5 382V385M1093.5 388V391M1093.5 394V397M1093.5 400V403M1093.5 406V409M1093.5 412V415M1093.5 418V421M1093.5 424V427M1093.5 430V433M1093.5 436V439M1093.5 442V445M1093.5 448V451M1093.5 454V457M1093.5 460V463M1093.5 466V469M1093.5 472V475M1093.5 478V481M1093.5 484V487M1093.5 490V493M1093.5 496V499M1093.5 502V505M1093.5 508V511M1093.5 514V517M1093.5 520V523M1093.5 526V529M1093.5 532V535M1093.5 538V541M1093.5 544V547M1093.5 550V553M1093.5 556V559M1093.5 562V565M1093.5 568V571M1093.5 574V577M1093.5 580V583M1093.5 586V589M1093.5 592V595M1093.5 598V601" stroke="#778899" stroke-width="1" fill="none"/>
<path d="M1093.5 604V607M1093.5 610V613M1093.5 616V619M1093.5 622V625M1093.5 628V631M1093.5 634V637M1093.5 640V643M1093.5 646V649M1093.5 652V655M1093.5 658V661M1093.5 664V667M1093.5 670V673M1093.5 676V679M1093.5 682V685M1093.5 688V691M1093.5 694V697M1093.5 700V703M1093.5 706V709M1093.5 712V715M1093.5 718V721M1093.5 724V727M1093.5 730V733M1093.5 736V739M1093.5 742V745M1093.5 748V751M1093.5 754V757M1093.5 760V763M1093.5 766V769M1093.5 772V775M1093.5 778V781" stroke="#778899" stroke-width="1" fill="none"/>
<path d="M1157.5 5V7M1157.5 10V13M1157.5 16V19M1157.5 22V25M1157.5 28V31M1157.5 34V37M1157.5 40V43M1157.5 46V49M1157.5 52V55M1157.5 58V61M1157.5 64V67M1157.5 70V73M1157.5 76V79M1157.5 82V85M1157.5 88V91M1157.5 94V97M1157.5 100V103M1157.5 106V109M1157.5 112V115M1157.5 118V121M1157.5 124V127M1157.5 130V133M1157.5 136V139M1157.5 142V145M1157.5 148V151M1157.5 154V157M1157.5 160V163M1157.5 166V169M1157.5 172V175M1157.5 178V181M1157.5 184V187M1157.5 190V193M1157.5 196V199M1157.5 202V205M1157.5 208V211M1157.5 214V217M1157.5 220V223M1157.5 226V229M1157.5 232V235M1157.5 238V241M1157.5 244V247M1157.5 250V253M1157.5 256V259M1157.5 262V265M1157.5 268V271M1157.5 274V277M1157.5 280V283M1157.5 286V289M1157.5 292V295M1157.5 298V301M1157.5 304V307M1157.5 310V313M1157.5 316V319M1157.5 322V325M1157.5 328V331M1157.5 334V337M1157.5 340V343M1157.5 346V349M1157.5 352V355M1157.5 358V361M1157.5 364V367M1157.5 370V373M1157.5 376V379M1157.5 382V385M1157.5 388V391M1157.5 394V397M1157.5 400V403M1157.5 406V409M1157.5 412V415M1157.5 418V421M1157.5 424V427M1157.5 430V433M1157.5 436V439M1157.5 442V445M1157.5 448V451M1157.5 454V457M1157.5 460V463M1157.5 466V469M1157.5 472V475M1157.5 478V481M1157.5 484V487M1157.5 490V493M1157.5 496V499M1157.5 502V505M1157.5 508V511M1157.5 514V517M1157.5 520V523M1157.5 526V529M1157.5 532V535M1157.5 538V541M1157.5 544V547M1157.5 550V553M1157.5 556V559M1157.5 562V565M1157.5 568V571M1157.5 574V577M1157.5 580V583M1157.5 586V589M1157.5 592V595M1157.5 598V601" stroke="#778899" stroke-width="1" fill="none"/>
<path d="M1157.5 604V607M1157.5 610V613M1157.5 616V619M1157.5 622V625M1157.5 628V631M1157.5 634V637M1157.5 640V643M1157.5 646V649M1157.5 652V655M1157.5 658V661M1157.5 664V667M1157.5 670V673M1157.5 676V679M1157.5 682V685M1157.5 688V691M1157.5 694V697M1157.5 700V703M1157.5 706V709M1157.5 712V715M1157.5 718V721M1157.5 724V727M1157.5 730V733M1157.5 736V739M1157.5 742V745M1157.5 748V751M1157.5 754V757M1157.5 760V763M1157.5 766V769M1157.5 772V775M1157.5 778V781" stroke="#778899" stroke-width="1" fill="none"/>
<path d="M1221.5 5V7M1221.5 10V13M1221.5 16V19M1221.5 22V25M1221.5 28V31M1221.5 34V37M1221.5 40V43M1221.5 46V49M1221.5 52V55M1221.5 58V61M1221.5 64V67M1221.5 70V73M1221.5 76V79M1221.5 82V85M1221.5 88V91M1221.5 94V97M1221.5 100V103M1221.5 106V109M1221.5 112V115M1221.5 118V121M1221.5 124V127M1221.5 130V133M1221.5 136V139M1221.5 142V145M1221.5 148V151M1221.5 154V157M1221.5 160V163M1221.5 166V169M1221.5 172V175M1221.5 178V181M1221.5 184V187M1221.5 190V193M1221.5 196V199M1221.5 202V205M1221.5 208V211M1221.5 214V217M1221.5 220V223M1221.5 226V229M1221.5 232V235M1221.5 238V241M1221.5 244V247M1221.5 250V253M1221.5 256V259M1221.5 262V265M1221.5 268V271M1221.5 274V277M1221.5 280V283M1221.5 286V289M1221.5 292V295M1221.5 298V301M1221.5 304V307M1221.5 310V313M1221.5 316V319M1221.5 322V325M1221.5 328V331M1221.5 334V337M1221.5 340V343M1221.5 346V349M1221.5 352V355M1221.5 358V361M1221.5 364V367M1221.5 370V373M1221.5 376V379M1221.5 382V385M1221.5 388V391M1221.5 394V397M1221.5 400V403M1221.5 406V409M1221.5 412V415M1221.5 418V421M1221.5 424V427M1221.5 430V433M1221.5 436V439M1221.5 442V445M1221.5 448V451M1221.5 454V457M1221.5 460V463M1221.5 466V469M1221.5 472V475M1221.5 478V481M1221.5 484V487M1221.5 490V493M1221.5 496V499M1221.5 502V505M1221.5 508V511M1221.5 514V517M1221.5 520V523M1221.5 526V529M1221.5 532V535M1221.5 538V541M1221.5 544V547M1221.5 550V553M1221.5 556V559M1221.5 562V565M1221.5 568V571M1221.5 574V577M1221.5 580V583M1221.5 586V589M1221.5 592V595M1221.5 598V601" stroke="#778899" stroke-width="1" fill="none"/>
<path d="M1221.5 604V607M1221.5 610V613M1221.5 616V619M1221.5 622V625M1221.5 628V631M1221.5 634V637M1221.5 640V643M1221.5 646V649M1221.5 652V655M1221.5 658V661M1221.5 664V667M1221.5 670V673M1221.5 676V679M1221.5 682V685M1221.5 688V691M1221.5 694V697M1221.5 700V703M1221.5 706V709M1221.5 712V715M1221.5 718V721M1221.5 724V727M1221.5 730V733M1221.5 736V739M1221.5 742V745M1221.5 748V751M1221.5 754V757M1221.5 760V763M1221.5 766V769M1221.5 772V775M1221.5 778V781" stroke="#778899" stroke-width="1" fill="none"/>
<path d="M1285.5 5V7M1285.5 10V13M1285.5 16V19M1285.5 22V25M1285.5 28V31M1285.5 34V37M1285.5 40V43M1285.5 46V49M1285.5 52V55M1285.5 58V61M1285.5 64V67M1285.5 70V73M1285.5 76V79M1285.5 82V85M1285.5 88V91M1285.5 94V97M1285.5 100V103M1285.5 106V109M1285.5 112V115M1285.5 118V121M1285.5 124V127M1285.5 130V133M1285.5 136V139M1285.5 142V145M1285.5 148V151M1285.5 154V157M1285.5 160V163M1285.5 166V169M1285.5 172V175M1285.5 178V181M1285.5 184V187M1285.5 190V193M1285.5 196V199M1285.5 202V205M1285.5 208V211M1285.5 214V217M1285.5 220V223M1285.5 226V229M1285.5 232V235M1285.5 238V241M1285.5 244V247M1285.5 250V253M1285.5 256V259M1285.5 262V265M1285.5 268V271M1285.5 274V277M1285.5 280V283M1285.5 286V289M1285.5 292V295M1285.5 298V301M1285.5 304V307M1285.5 310V313M1285.5 316V319M1285.5 322V325M1285.5 328V331M1285.5 334V337M1285.5 340V343M1285.5 346V349M1285.5 352V355M1285.5 358V361M1285.5 364V367M1285.5 370V373M1285.5 376V379M1285.5 382V385M1285.5 388V391M1285.5 394V397M1285.5 400V403M1285.5 406V409M1285.5 412V415M1285.5 418V421M1285.5 424V427M1285.5 430V433M1285.5 436V439M1285.5 442V445M1285.5 448V451M1285.5 454V457M1285.5 460V463M1285.5 466V469M1285.5 472V475M1285.5 478V481M1285.5 484V487M1285.5 490V493M1285.5 496V499M1285.5 502V505M1285.5 508V511M1285.5 514V517M1285.5 520V523M1285.5 526V529M1285.5 532V535M1285.5 538V541M1285.5 544V547M1285.5 550V553M1285.5 556V559M1285.5 562V565M1285.5 568V571M1285.5 574V577M1285.5 580V583M1285.5 586V589M1285.5 592V595M1285.5 598V601" stroke="#778899" stroke-width="1" fill="none"/>
<path d="M1285.5 604V607M1285.5 610V613M1285.5 616V619M1285.5 622V625M1285.5 628V631M1285.5 634V637M1285.5 640V643M1285.5 646V649M1285.5 652V655M1285.5 658V661M1285.5 664V667M1285.5 670V673M1285.5 676V679M1285.5 682V685M1285.5 688V691M1285.5 694V697M1285.5 700V703M1285.5 706V709M1285.5 712V715M1285.5 718V721M1285.5 724V727M1285.5 730V733M1285.5 736V739M1285.5 742V745M1285.5 748V751M1285.5 754V757M1285.5 760V763M1285.5 766V769M1285.5 772V775M1285.5 778V781" stroke="#778899" stroke-width="1" fill="none"/>
<path d="M1349.5 5V7M1349.5 10V13M1349.5 16V19M1349.5 22V25M1349.5 28V31M1349.5 34V37M1349.5 40V43M1349.5 46V49M1349.5 52V55M1349.5 58V61M1349.5 64V67M1349.5 70V73M1349.5 76V79M1349.5 82V85M1349.5 88V91M1349.5 94V97M1349.5 100V103M1349.5 106V109M1349.5 112V115M1349.5 118V121M1349.5 124V127M1349.5 130V133M1349.5 136V139M1349.5 142V145M1349.5 148V151M1349.5 154V157M1349.5 160V163M1349.5 166V169M1349.5 172V175M1349.5 178V181M1349.5 184V187M1349.5 190V193M1349.5 196V199M1349.5 202V205M1349.5 208V211M1349.5 214V217M1349.5 220V223M1349.5 226V229M1349.5 232V235M1349.5 238V241M1349.5 244V247M1349.5 250V253M1349.5 256V259M1349.5 262V265M1349.5 268V271M1349.5 274V277M1349.5 280V283M1349.5 286V289M1349.5 292V295M1349.5 298V301M1349.5 304V307M1349.5 310V313M1349.5 316V319M1349.5 322V325M1349.5 328V331M1349.5 334V337M1349.5 340V343M1349.5 346V349M1349.5 352V355M1349.5 358V361M1349.5 364V367M1349.5 370V373M1349.5 376V379M1349.5 382V385M1349.5 388V391M1349.5 394V397M1349.5 400V403M1349.5 406V409M1349.5 412V415M1349.5 418V421M1349.5 424V427M1349.5 430V433M1349.5 436V439M1349.5 442V445M1349.5 448V451M1349.5 454V457M1349.5 460V463M1349.5 466V469M1349.5 472V475M1349.5 478V481M1349.5 484V487M1349.5 490V493M1349.5 496V499M1349.5 502V505M1349.5 508V511M1349.5 514V517M1349.5 520V523M1349.5 526V529M1349.5 532V535M1349.5 538V541M1349.5 544V547M1349.5 550V553M1349.5 556V559M1349.5 562V565M1349.5 568V571M1349.5 574V577M1349.5 580V583M1349.5 586V589M1349.5 592V595M1349.5 598V601" stroke="#778899" stroke-width="1" fill="none"/>
<path d="M1349.5 604V607M1349.5 610V613M1349.5 616V619M1349.5 622V625M1349.5 628V631M1349.5 634V637M1349.5 640V643M1349.5 646V649M1349.5 652V655M1349.5 658V661M1349.5 664V667M1349.5 670V673M1349.5 676V679M1349.5 682V685M1349.5 688V691M1349.5 694V697M1349.5 700V703M1349.5 706V709M1349.5 712V715M1349.5 718V721M1349.5 724V727M1349.5 730V733M1349.5 736V739M1349.5 742V745M1349.5 748V751M1349.5 754V757M1349.5 760V763M1349.5 766V769M1349.5 772V775M1349.5 778V781" stroke="#778899" stroke-width="1" fill="none"/>
<path d="M1413.5 5V7M1413.5 10V13M1413.5 16V19M1413.5 22V25M1413.5 28V31M1413.5 34V37M1413.5 40V43M1413.5 46V49M1413.5 52V55M1413.5 58V61M1413.5 64V67M1413.5 70V73M1413.5 76V79M1413.5 82V85M1413.5 88V91M1413.5 94V97M1413.5 100V103M1413.5 106V109M1413.5 112V115M1413.5 118V121M1413.5 124V127M1413.5 130V133M1413.5 136V139M1413.5 142V145M1413.5 148V151M1413.5 154V157M1413.5 160V163M1413.5 166V169M1413.5 172V175M1413.5 178V181M1413.5 184V187M1413.5 190V193M1413.5 196V199M1413.5 202V205M1413.5 208V211M1413.5 214V217M1413.5 220V223M1413.5 226V229M1413.5 232V235M1413.5 238V241M1413.5 244V247M1413.5 250V253M1413.5 256V259M1413.5 262V265M1413.5 268V271M1413.5 274V277M1413.5 280V283M1413.5 286V289M1413.5 292V295M1413.5 298V301M1413.5 304V307M1413.5 310V313M1413.5 316V319M1413.5 322V325M1413.5 328V331M1413.5 334V337M1413.5 340V343M1413.5 346V349M1413.5 352V355M1413.5 358V361M1413.5 364V367M1413.5 370V373M1413.5 376V379M1413.5 382V385M1413.5 388V391M1413.5 394V397M1413.5 400V403M1413.5 406V409M1413.5 412V415M1413.5 418V421M1413.5 424V427M1413.5 430V433M1413.5 436V439M1413.5 442V445M1413.5 448V451M1413.5 454V457M1413.5 460V463M1413.5 466V469M1413.5 472V475M1413.5 478V481M1413.5 484V487M1413.5 490V493M1413.5 496V499M1413.5 502V505M1413.5 508V511M1413.5 514V517M1413.5 520V523M1413.5 526V529M1413.5 532V535M1413.5 538V541M1413.5 544V547M1413.5 550V553M1413.5 556V559M1413.5 562V565M1413.5 568V571M1413.5 574V577M1413.5 580V583M1413.5 586V589M1413.5 592V595M1413.5 598V601" stroke="#778899" stroke-width="1" fill="none"/>
<path d="M1413.5 604V607M1413.5 610V613M1413.5 616V619M1413.5 622V625M1413.5 628V631M1413.5 634V637M1413.5 640V643M1413.5 646V649M1413.5 652V655M1413.5 658V661M1413.5 664V667M1413.5 670V673M1413.5 676V679M1413.5 682V685M1413.5 688V691M1413.5 694V697M1413.5 700V703M1413.5 706V709M1413.5 712V715M1413.5 718V721M1413.5 724V727M1413.5 730V733M1413.5 736V739M1413.5 742V745M1413.5 748V751M1413.5 754V757M1413.5 760V763M1413.5 766V769M1413.5 772V775M1413.5 778V781" stroke="#778899" stroke-width="1" fill="none"/>
<rect x="5" y="57" width="1439" height="1" fill="#778899"/>
<polygon points="8,12 19,12 13.5,18" fill="#000" shape-rendering="geometricPrecision"/>
<rect x="5" y="559" width="1" height="29" fill="#000"/>
<rect x="3" y="564" width="5" height="16" fill="#000"/>
<rect x="4" y="565" width="3" height="14" fill="#FF0000"/>
<rect x="13" y="498" width="1" height="69" fill="#000"/>
<rect x="11" y="557" width="5" height="8" fill="#000"/>
<rect x="12" y="558" width="3" height="6" fill="#FF0000"/>
<rect x="21" y="526" width="1" height="45" fill="#000"/>
<rect x="19" y="546" width="5" height="12" fill="#000"/>
<rect x="20" y="547" width="3" height="10" fill="#FF0000"/>
<rect x="29" y="525" width="1" height="13" fill="#00FF00"/>
<rect x="27" y="532" width="5" height="1" fill="#00FF00"/>
<rect x="37" y="525" width="1" height="12" fill="#000"/>
<rect x="35" y="532" width="5" height="3" fill="#000"/>
<rect x="36" y="533" width="3" height="1" fill="#00FF00"/>
<rect x="45" y="511" width="1" height="28" fill="#000"/>
<rect x="43" y="512" width="5" height="23" fill="#000"/>
<rect x="44" y="513" width="3" height="21" fill="#FF0000"/>
<rect x="53" y="503" width="1" height="33" fill="#000"/>
<rect x="51" y="511" width="5" height="9" fill="#000"/>
<rect x="52" y="512" width="3" height="7" fill="#00FF00"/>
<rect x="61" y="513" width="1" height="28" fill="#000"/>
<rect x="59" y="519" width="5" height="1" fill="#000"/>
<rect x="69" y="454" width="1" height="68" fill="#000"/>
<rect x="67" y="456" width="5" height="64" fill="#000"/>
<rect x="68" y="457" width="3" height="62" fill="#FF0000"/>
<rect x="77" y="444" width="1" height="22" fill="#000"/>
<rect x="75" y="453" width="5" height="3" fill="#000"/>
<rect x="76" y="454" width="3" height="1" fill="#FF0000"/>
<rect x="85" y="433" width="1" height="25" fill="#000"/>
<rect x="83" y="434" width="5" height="20" fill="#000"/>
<rect x="84" y="435" width="3" height="18" fill="#FF0000"/>
<rect x="93" y="421" width="1" height="17" fill="#000"/>
<rect x="91" y="433" width="5" height="3" fill="#000"/>
<rect x="92" y="434" width="3" height="1" fill="#FF0000"/>
<rect x="101" y="425" width="1" height="29" fill="#000"/>
<rect x="99" y="433" width="5" height="20" fill="#000"/>
<rect x="100" y="434" width="3" height="18" fill="#00FF00"/>
<rect x="109" y="376" width="1" height="92" fill="#000"/>
<rect x="107" y="405" width="5" height="48" fill="#000"/>
<rect x="108" y="406" width="3" height="46" fill="#FF0000"/>
<rect x="117" y="375" width="1" height="47" fill="#000"/>
<rect x="115" y="388" width="5" height="18" fill="#000"/>
<rect x="116" y="389" width="3" height="16" fill="#FF0000"/>
<rect x="125" y="381" width="1" height="16" fill="#000"/>
<rect x="123" y="388" width="5" height="3" fill="#000"/>
<rect x="124" y="389" width="3" height="1" fill="#FF0000"/>
<rect x="133" y="387" width="1" height="12" fill="#000"/>
<rect x="131" y="389" width="5" height="3" fill="#000"/>
<rect x="132" y="390" width="3" height="1" fill="#00FF00"/>
<rect x="141" y="370" width="1" height="25" fill="#000"/>
<rect x="139" y="370" width="5" height="21" fill="#000"/>
<rect x="140" y="371" width="3" height="19" fill="#FF0000"/>
<rect x="149" y="363" width="1" height="18" fill="#000"/>
<rect x="147" y="370" width="5" height="6" fill="#000"/>
<rect x="148" y="371" width="3" height="4" fill="#00FF00"/>
<rect x="157" y="335" width="1" height="61" fill="#000"/>
<rect x="155" y="354" width="5" height="23" fill="#000"/>
<rect x="156" y="355" width="3" height="21" fill="#FF0000"/>
<rect x="165" y="351" width="1" height="113" fill="#000"/>
<rect x="163" y="356" width="5" height="26" fill="#000"/>
<rect x="164" y="357" width="3" height="24" fill="#00FF00"/>
<rect x="173" y="372" width="1" height="13" fill="#000"/>
<rect x="171" y="376" width="5" height="6" fill="#000"/>
<rect x="172" y="377" width="3" height="4" fill="#FF0000"/>
<rect x="181" y="272" width="1" height="24" fill="#000"/>
<rect x="179" y="273" width="5" height="8" fill="#000"/>
<rect x="180" y="274" width="3" height="6" fill="#00FF00"/>
<rect x="189" y="277" width="1" height="28" fill="#000"/>
<rect x="187" y="280" width="5" height="7" fill="#000"/>
<rect x="188" y="281" width="3" height="5" fill="#00FF00"/>
<rect x="197" y="283" width="1" height="43" fill="#000"/>
<rect x="195" y="286" width="5" height="30" fill="#000"/>
<rect x="196" y="287" width="3" height="28" fill="#00FF00"/>
<rect x="205" y="188" width="1" height="150" fill="#000"/>
<rect x="203" y="197" width="5" height="120" fill="#000"/>
<rect x="204" y="198" width="3" height="118" fill="#FF0000"/>
<rect x="213" y="122" width="1" height="91" fill="#000"/>
<rect x="211" y="152" width="5" height="47" fill="#000"/>
<rect x="212" y="153" width="3" height="45" fill="#FF0000"/>
<rect x="221" y="152" width="1" height="21" fill="#000"/>
<rect x="219" y="152" width="5" height="18" fill="#000"/>
<rect x="220" y="153" width="3" height="16" fill="#00FF00"/>
<rect x="229" y="169" width="1" height="14" fill="#00FF00"/>
<rect x="227" y="170" width="5" height="1" fill="#00FF00"/>
<rect x="237" y="153" width="1" height="24" fill="#000"/>
<rect x="235" y="163" width="5" height="8" fill="#000"/>
<rect x="236" y="164" width="3" height="6" fill="#FF0000"/>
<rect x="245" y="140" width="1" height="26" fill="#000"/>
<rect x="243" y="149" width="5" height="15" fill="#000"/>
<rect x="244" y="150" width="3" height="13" fill="#FF0000"/>
<rect x="253" y="103" width="1" height="68" fill="#000"/>
<rect x="251" y="148" width="5" height="3" fill="#000"/>
<rect x="252" y="149" width="3" height="1" fill="#FF0000"/>
<rect x="261" y="121" width="1" height="83" fill="#000"/>
<rect x="259" y="148" width="5" height="44" fill="#000"/>
<rect x="260" y="149" width="3" height="42" fill="#00FF00"/>
<rect x="269" y="180" width="1" height="10" fill="#000"/>
<rect x="267" y="181" width="5" height="8" fill="#000"/>
<rect x="268" y="182" width="3" height="6" fill="#00FF00"/>
<rect x="277" y="188" width="1" height="23" fill="#000"/>
<rect x="275" y="189" width="5" height="19" fill="#000"/>
<rect x="276" y="190" width="3" height="17" fill="#00FF00"/>
<rect x="285" y="180" width="1" height="33" fill="#000"/>
<rect x="283" y="196" width="5" height="12" fill="#000"/>
<rect x="284" y="197" width="3" height="10" fill="#FF0000"/>
<rect x="293" y="192" width="1" height="19" fill="#000"/>
<rect x="291" y="197" width="5" height="12" fill="#000"/>
<rect x="292" y="198" width="3" height="10" fill="#00FF00"/>
<rect x="301" y="204" width="1" height="18" fill="#000"/>
<rect x="299" y="208" width="5" height="3" fill="#000"/>
<rect x="300" y="209" width="3" height="1" fill="#00FF00"/>
<rect x="309" y="208" width="1" height="7" fill="#00FF00"/>
<rect x="307" y="209" width="5" height="1" fill="#00FF00"/>
<rect x="317" y="203" width="1" height="16" fill="#000"/>
<rect x="315" y="204" width="5" height="10" fill="#000"/>
<rect x="316" y="205" width="3" height="8" fill="#00FF00"/>
<rect x="325" y="208" width="1" height="18" fill="#000"/>
<rect x="323" y="214" width="5" height="7" fill="#000"/>
<rect x="324" y="215" width="3" height="5" fill="#00FF00"/>
<rect x="333" y="211" width="1" height="28" fill="#000"/>
<rect x="331" y="213" width="5" height="7" fill="#000"/>
<rect x="332" y="214" width="3" height="5" fill="#FF0000"/>
<rect x="341" y="210" width="1" height="38" fill="#000"/>
<rect x="339" y="212" width="5" height="16" fill="#000"/>
<rect x="340" y="213" width="3" height="14" fill="#00FF00"/>
<rect x="349" y="217" width="1" height="82" fill="#000"/>
<rect x="347" y="227" width="5" height="48" fill="#000"/>
<rect x="348" y="228" width="3" height="46" fill="#00FF00"/>
<rect x="357" y="218" width="1" height="61" fill="#000"/>
<rect x="355" y="243" width="5" height="32" fill="#000"/>
<rect x="356" y="244" width="3" height="30" fill="#FF0000"/>
<rect x="365" y="237" width="1" height="21" fill="#000"/>
<rect x="363" y="238" width="5" height="6" fill="#000"/>
<rect x="364" y="239" width="3" height="4" fill="#FF0000"/>
<rect x="373" y="233" width="1" height="15" fill="#000"/>
<rect x="371" y="239" width="5" height="4" fill="#000"/>
<rect x="372" y="240" width="3" height="2" fill="#00FF00"/>
<rect x="381" y="237" width="1" height="31" fill="#000"/>
<rect x="379" y="242" width="5" height="11" fill="#000"/>
<rect x="380" y="243" width="3" height="9" fill="#00FF00"/>
<rect x="389" y="235" width="1" height="20" fill="#000"/>
<rect x="387" y="250" width="5" height="2" fill="#000"/>
<rect x="397" y="249" width="1" height="66" fill="#000"/>
<rect x="395" y="250" width="5" height="47" fill="#000"/>
<rect x="396" y="251" width="3" height="45" fill="#00FF00"/>
<rect x="405" y="251" width="1" height="58" fill="#000"/>
<rect x="403" y="297" width="5" height="4" fill="#000"/>
<rect x="404" y="298" width="3" height="2" fill="#00FF00"/>
<rect x="413" y="293" width="1" height="12" fill="#000"/>
<rect x="411" y="298" width="5" height="2" fill="#000"/>
<rect x="421" y="291" width="1" height="26" fill="#000"/>
<rect x="419" y="298" width="5" height="7" fill="#000"/>
<rect x="420" y="299" width="3" height="5" fill="#00FF00"/>
<rect x="429" y="303" width="1" height="35" fill="#000"/>
<rect x="427" y="303" width="5" height="29" fill="#000"/>
<rect x="428" y="304" width="3" height="27" fill="#00FF00"/>
<rect x="437" y="314" width="1" height="26" fill="#000"/>
<rect x="435" y="326" width="5" height="5" fill="#000"/>
<rect x="436" y="327" width="3" height="3" fill="#FF0000"/>
<rect x="445" y="280" width="1" height="56" fill="#000"/>
<rect x="443" y="289" width="5" height="37" fill="#000"/>
<rect x="444" y="290" width="3" height="35" fill="#FF0000"/>
<rect x="453" y="264" width="1" height="55" fill="#000"/>
<rect x="451" y="265" width="5" height="25" fill="#000"/>
<rect x="452" y="266" width="3" height="23" fill="#FF0000"/>
<rect x="461" y="260" width="1" height="13" fill="#000"/>
<rect x="459" y="266" width="5" height="2" fill="#000"/>
<rect x="469" y="267" width="1" height="44" fill="#000"/>
<rect x="467" y="267" width="5" height="43" fill="#000"/>
<rect x="468" y="268" width="3" height="41" fill="#00FF00"/>
<rect x="477" y="293" width="1" height="39" fill="#000"/>
<rect x="475" y="308" width="5" height="9" fill="#000"/>
<rect x="476" y="309" width="3" height="7" fill="#00FF00"/>
<rect x="485" y="305" width="1" height="21" fill="#000"/>
<rect x="483" y="315" width="5" height="1" fill="#000"/>
<rect x="493" y="314" width="1" height="47" fill="#000"/>
<rect x="491" y="314" width="5" height="20" fill="#000"/>
<rect x="492" y="315" width="3" height="18" fill="#00FF00"/>
<rect x="501" y="304" width="1" height="62" fill="#000"/>
<rect x="499" y="332" width="5" height="15" fill="#000"/>
<rect x="500" y="333" width="3" height="13" fill="#00FF00"/>
<rect x="509" y="325" width="1" height="8" fill="#000"/>
<rect x="507" y="329" width="5" height="1" fill="#000"/>
<rect x="517" y="318" width="1" height="21" fill="#000"/>
<rect x="515" y="322" width="5" height="7" fill="#000"/>
<rect x="516" y="323" width="3" height="5" fill="#FF0000"/>
<rect x="525" y="322" width="1" height="58" fill="#000"/>
<rect x="523" y="323" width="5" height="36" fill="#000"/>
<rect x="524" y="324" width="3" height="34" fill="#00FF00"/>
<rect x="533" y="350" width="1" height="30" fill="#000"/>
<rect x="531" y="352" width="5" height="7" fill="#000"/>
<rect x="532" y="353" width="3" height="5" fill="#FF0000"/>
<rect x="541" y="316" width="1" height="57" fill="#000"/>
<rect x="539" y="351" width="5" height="3" fill="#000"/>
<rect x="540" y="352" width="3" height="1" fill="#FF0000"/>
<rect x="549" y="348" width="1" height="49" fill="#000"/>
<rect x="547" y="350" width="5" height="42" fill="#000"/>
<rect x="548" y="351" width="3" height="40" fill="#00FF00"/>
<rect x="557" y="371" width="1" height="20" fill="#000"/>
<rect x="555" y="371" width="5" height="20" fill="#000"/>
<rect x="556" y="372" width="3" height="18" fill="#FF0000"/>
<rect x="565" y="367" width="1" height="18" fill="#000"/>
<rect x="563" y="371" width="5" height="2" fill="#000"/>
<rect x="573" y="352" width="1" height="23" fill="#000"/>
<rect x="571" y="366" width="5" height="8" fill="#000"/>
<rect x="572" y="367" width="3" height="6" fill="#FF0000"/>
<rect x="581" y="362" width="1" height="28" fill="#000"/>
<rect x="579" y="367" width="5" height="19" fill="#000"/>
<rect x="580" y="368" width="3" height="17" fill="#00FF00"/>
<rect x="589" y="324" width="1" height="67" fill="#000"/>
<rect x="587" y="327" width="5" height="58" fill="#000"/>
<rect x="588" y="328" width="3" height="56" fill="#FF0000"/>
<rect x="597" y="265" width="1" height="65" fill="#000"/>
<rect x="595" y="280" width="5" height="47" fill="#000"/>
<rect x="596" y="281" width="3" height="45" fill="#FF0000"/>
<rect x="605" y="280" width="1" height="22" fill="#000"/>
<rect x="603" y="280" width="5" height="18" fill="#000"/>
<rect x="604" y="281" width="3" height="16" fill="#00FF00"/>
<rect x="613" y="292" width="1" height="15" fill="#000"/>
<rect x="611" y="296" width="5" height="2" fill="#000"/>
<rect x="621" y="288" width="1" height="16" fill="#000"/>
<rect x="619" y="296" width="5" height="4" fill="#000"/>
<rect x="620" y="297" width="3" height="2" fill="#00FF00"/>
<rect x="629" y="283" width="1" height="26" fill="#000"/>
<rect x="627" y="298" width="5" height="2" fill="#000"/>
<rect x="637" y="269" width="1" height="56" fill="#000"/>
<rect x="635" y="271" width="5" height="28" fill="#000"/>
<rect x="636" y="272" width="3" height="26" fill="#FF0000"/>
<rect x="645" y="252" width="1" height="70" fill="#000"/>
<rect x="643" y="272" width="5" height="2" fill="#000"/>
<rect x="653" y="253" width="1" height="28" fill="#000"/>
<rect x="651" y="261" width="5" height="13" fill="#000"/>
<rect x="652" y="262" width="3" height="11" fill="#FF0000"/>
<rect x="661" y="255" width="1" height="24" fill="#000"/>
<rect x="659" y="261" width="5" height="15" fill="#000"/>
<rect x="660" y="262" width="3" height="13" fill="#00FF00"/>
<rect x="669" y="269" width="1" height="20" fill="#000"/>
<rect x="667" y="274" width="5" height="9" fill="#000"/>
<rect x="668" y="275" width="3" height="7" fill="#00FF00"/>
<rect x="677" y="247" width="1" height="38" fill="#000"/>
<rect x="675" y="252" width="5" height="31" fill="#000"/>
<rect x="676" y="253" width="3" height="29" fill="#FF0000"/>
<rect x="685" y="236" width="1" height="64" fill="#000"/>
<rect x="683" y="248" width="5" height="6" fill="#000"/>
<rect x="684" y="249" width="3" height="4" fill="#FF0000"/>
<rect x="693" y="234" width="1" height="47" fill="#000"/>
<rect x="691" y="237" width="5" height="12" fill="#000"/>
<rect x="692" y="238" width="3" height="10" fill="#FF0000"/>
<rect x="701" y="232" width="1" height="12" fill="#000"/>
<rect x="699" y="236" width="5" height="3" fill="#000"/>
<rect x="700" y="237" width="3" height="1" fill="#FF0000"/>
<rect x="709" y="223" width="1" height="24" fill="#000"/>
<rect x="707" y="235" width="5" height="2" fill="#000"/>
<rect x="717" y="222" width="1" height="18" fill="#000"/>
<rect x="715" y="227" width="5" height="10" fill="#000"/>
<rect x="716" y="228" width="3" height="8" fill="#FF0000"/>
<rect x="725" y="192" width="1" height="37" fill="#000"/>
<rect x="723" y="202" width="5" height="25" fill="#000"/>
<rect x="724" y="203" width="3" height="23" fill="#FF0000"/>
<rect x="733" y="118" width="1" height="85" fill="#000"/>
<rect x="731" y="138" width="5" height="65" fill="#000"/>
<rect x="732" y="139" width="3" height="63" fill="#FF0000"/>
<rect x="741" y="93" width="1" height="50" fill="#000"/>
<rect x="739" y="121" width="5" height="18" fill="#000"/>
<rect x="740" y="122" width="3" height="16" fill="#FF0000"/>
<rect x="749" y="112" width="1" height="9" fill="#000"/>
<rect x="747" y="113" width="5" height="8" fill="#000"/>
<rect x="748" y="114" width="3" height="6" fill="#FF0000"/>
<rect x="757" y="109" width="1" height="16" fill="#000"/>
<rect x="755" y="112" width="5" height="4" fill="#000"/>
<rect x="756" y="113" width="3" height="2" fill="#00FF00"/>
<rect x="765" y="112" width="1" height="13" fill="#000"/>
<rect x="763" y="114" width="5" height="2" fill="#000"/>
<rect x="773" y="104" width="1" height="23" fill="#000"/>
<rect x="771" y="115" width="5" height="10" fill="#000"/>
<rect x="772" y="116" width="3" height="8" fill="#00FF00"/>
<rect x="781" y="112" width="1" height="25" fill="#000"/>
<rect x="779" y="114" width="5" height="10" fill="#000"/>
<rect x="780" y="115" width="3" height="8" fill="#FF0000"/>
<rect x="789" y="102" width="1" height="14" fill="#000"/>
<rect x="787" y="112" width="5" height="2" fill="#000"/>
<rect x="797" y="111" width="1" height="8" fill="#000"/>
<rect x="795" y="114" width="5" height="3" fill="#000"/>
<rect x="796" y="115" width="3" height="1" fill="#00FF00"/>
<rect x="805" y="106" width="1" height="13" fill="#000"/>
<rect x="803" y="108" width="5" height="9" fill="#000"/>
<rect x="804" y="109" width="3" height="7" fill="#FF0000"/>
<rect x="813" y="103" width="1" height="10" fill="#000"/>
<rect x="811" y="105" width="5" height="5" fill="#000"/>
<rect x="812" y="106" width="3" height="3" fill="#FF0000"/>
<rect x="821" y="105" width="1" height="16" fill="#000"/>
<rect x="819" y="105" width="5" height="7" fill="#000"/>
<rect x="820" y="106" width="3" height="5" fill="#00FF00"/>
<rect x="829" y="108" width="1" height="9" fill="#000"/>
<rect x="827" y="111" width="5" height="1" fill="#000"/>
<rect x="837" y="110" width="1" height="4" fill="#000"/>
<rect x="835" y="111" width="5" height="2" fill="#000"/>
<rect x="845" y="110" width="1" height="7" fill="#000"/>
<rect x="843" y="112" width="5" height="3" fill="#000"/>
<rect x="844" y="113" width="3" height="1" fill="#00FF00"/>
<rect x="853" y="105" width="1" height="12" fill="#000"/>
<rect x="851" y="113" width="5" height="2" fill="#000"/>
<rect x="861" y="113" width="1" height="26" fill="#000"/>
<rect x="859" y="114" width="5" height="20" fill="#000"/>
<rect x="860" y="115" width="3" height="18" fill="#00FF00"/>
<rect x="869" y="127" width="1" height="38" fill="#000"/>
<rect x="867" y="134" width="5" height="28" fill="#000"/>
<rect x="868" y="135" width="3" height="26" fill="#00FF00"/>
<rect x="877" y="109" width="1" height="59" fill="#000"/>
<rect x="875" y="123" width="5" height="39" fill="#000"/>
<rect x="876" y="124" width="3" height="37" fill="#FF0000"/>
<rect x="885" y="112" width="1" height="35" fill="#000"/>
<rect x="883" y="124" width="5" height="3" fill="#000"/>
<rect x="884" y="125" width="3" height="1" fill="#00FF00"/>
<rect x="893" y="125" width="1" height="9" fill="#000"/>
<rect x="891" y="127" width="5" height="7" fill="#000"/>
<rect x="892" y="128" width="3" height="5" fill="#00FF00"/>
<rect x="901" y="134" width="1" height="27" fill="#000"/>
<rect x="899" y="134" width="5" height="26" fill="#000"/>
<rect x="900" y="135" width="3" height="24" fill="#00FF00"/>
<rect x="909" y="156" width="1" height="22" fill="#000"/>
<rect x="907" y="160" width="5" height="13" fill="#000"/>
<rect x="908" y="161" width="3" height="11" fill="#00FF00"/>
<rect x="917" y="165" width="1" height="15" fill="#000"/>
<rect x="915" y="172" width="5" height="6" fill="#000"/>
<rect x="916" y="173" width="3" height="4" fill="#00FF00"/>
<rect x="925" y="176" width="1" height="99" fill="#000"/>
<rect x="923" y="178" width="5" height="74" fill="#000"/>
<rect x="924" y="179" width="3" height="72" fill="#00FF00"/>
<rect x="933" y="204" width="1" height="48" fill="#000"/>
<rect x="931" y="213" width="5" height="38" fill="#000"/>
<rect x="932" y="214" width="3" height="36" fill="#FF0000"/>
<rect x="941" y="209" width="1" height="16" fill="#000"/>
<rect x="939" y="213" width="5" height="5" fill="#000"/>
<rect x="940" y="214" width="3" height="3" fill="#00FF00"/>
<rect x="949" y="210" width="1" height="15" fill="#000"/>
<rect x="947" y="216" width="5" height="2" fill="#000"/>
<rect x="957" y="214" width="1" height="29" fill="#000"/>
<rect x="955" y="216" width="5" height="17" fill="#000"/>
<rect x="956" y="217" width="3" height="15" fill="#00FF00"/>
<rect x="965" y="214" width="1" height="27" fill="#000"/>
<rect x="963" y="224" width="5" height="8" fill="#000"/>
<rect x="964" y="225" width="3" height="6" fill="#FF0000"/>
<rect x="973" y="196" width="1" height="53" fill="#000"/>
<rect x="971" y="199" width="5" height="25" fill="#000"/>
<rect x="972" y="200" width="3" height="23" fill="#FF0000"/>
<rect x="981" y="145" width="1" height="104" fill="#000"/>
<rect x="979" y="198" width="5" height="44" fill="#000"/>
<rect x="980" y="199" width="3" height="42" fill="#00FF00"/>
<rect x="989" y="230" width="1" height="8" fill="#000"/>
<rect x="987" y="231" width="5" height="5" fill="#000"/>
<rect x="988" y="232" width="3" height="3" fill="#00FF00"/>
<rect x="997" y="234" width="1" height="37" fill="#000"/>
<rect x="995" y="236" width="5" height="30" fill="#000"/>
<rect x="996" y="237" width="3" height="28" fill="#00FF00"/>
<rect x="1005" y="256" width="1" height="42" fill="#000"/>
<rect x="1003" y="266" width="5" height="14" fill="#000"/>
<rect x="1004" y="267" width="3" height="12" fill="#00FF00"/>
<rect x="1013" y="238" width="1" height="44" fill="#000"/>
<rect x="1011" y="241" width="5" height="39" fill="#000"/>
<rect x="1012" y="242" width="3" height="37" fill="#FF0000"/>
<rect x="1021" y="213" width="1" height="44" fill="#000"/>
<rect x="1019" y="241" width="5" height="6" fill="#000"/>
<rect x="1020" y="242" width="3" height="4" fill="#00FF00"/>
<rect x="1029" y="215" width="1" height="52" fill="#000"/>
<rect x="1027" y="216" width="5" height="30" fill="#000"/>
<rect x="1028" y="217" width="3" height="28" fill="#FF0000"/>
<rect x="1037" y="210" width="1" height="13" fill="#000"/>
<rect x="1035" y="215" width="5" height="2" fill="#000"/>
<rect x="1045" y="209" width="1" height="14" fill="#000"/>
<rect x="1043" y="212" width="5" height="3" fill="#000"/>
<rect x="1044" y="213" width="3" height="1" fill="#FF0000"/>
<rect x="1053" y="193" width="1" height="27" fill="#000"/>
<rect x="1051" y="213" width="5" height="6" fill="#000"/>
<rect x="1052" y="214" width="3" height="4" fill="#00FF00"/>
<rect x="1061" y="196" width="1" height="36" fill="#000"/>
<rect x="1059" y="197" width="5" height="23" fill="#000"/>
<rect x="1060" y="198" width="3" height="21" fill="#FF0000"/>
<rect x="1069" y="175" width="1" height="50" fill="#000"/>
<rect x="1067" y="176" width="5" height="22" fill="#000"/>
<rect x="1068" y="177" width="3" height="20" fill="#FF0000"/>
<rect x="1077" y="139" width="1" height="66" fill="#000"/>
<rect x="1075" y="150" width="5" height="26" fill="#000"/>
<rect x="1076" y="151" width="3" height="24" fill="#FF0000"/>
<rect x="1085" y="143" width="1" height="16" fill="#000"/>
<rect x="1083" y="151" width="5" height="3" fill="#000"/>
<rect x="1084" y="152" width="3" height="1" fill="#00FF00"/>
<rect x="1093" y="144" width="1" height="15" fill="#000"/>
<rect x="1091" y="147" width="5" height="7" fill="#000"/>
<rect x="1092" y="148" width="3" height="5" fill="#FF0000"/>
<rect x="1101" y="134" width="1" height="15" fill="#000"/>
<rect x="1099" y="134" width="5" height="15" fill="#000"/>
<rect x="1100" y="135" width="3" height="13" fill="#FF0000"/>
<rect x="1109" y="120" width="1" height="20" fill="#000"/>
<rect x="1107" y="123" width="5" height="14" fill="#000"/>
<rect x="1108" y="124" width="3" height="12" fill="#FF0000"/>
<rect x="1117" y="33" width="1" height="98" fill="#000"/>
<rect x="1115" y="88" width="5" height="35" fill="#000"/>
<rect x="1116" y="89" width="3" height="33" fill="#FF0000"/>
<rect x="1125" y="51" width="1" height="44" fill="#000"/>
<rect x="1123" y="67" width="5" height="23" fill="#000"/>
<rect x="1124" y="68" width="3" height="21" fill="#FF0000"/>
<rect x="1133" y="52" width="1" height="19" fill="#000"/>
<rect x="1131" y="58" width="5" height="11" fill="#000"/>
<rect x="1132" y="59" width="3" height="9" fill="#FF0000"/>
<rect x="1141" y="51" width="1" height="10" fill="#000"/>
<rect x="1139" y="57" width="5" height="2" fill="#000"/>
<rect x="5" y="96" width="1441" height="4" fill="#0000CD"/>
<rect x="5" y="132" width="1441" height="4" fill="#0000CD"/>
<rect x="5" y="273" width="1441" height="4" fill="#0000CD"/>
<rect x="3" y="713" width="5" height="26" fill="#00FF00"/>
<rect x="11" y="710" width="5" height="29" fill="#00FF00"/>
<rect x="19" y="708" width="5" height="31" fill="#00FF00"/>
<rect x="27" y="705" width="5" height="34" fill="#00FF00"/>
<rect x="35" y="704" width="5" height="35" fill="#00FF00"/>
<rect x="43" y="701" width="5" height="38" fill="#00FF00"/>
<rect x="51" y="700" width="5" height="39" fill="#00FF00"/>
<rect x="59" y="699" width="5" height="40" fill="#00FF00"/>
<rect x="67" y="693" width="5" height="46" fill="#00FF00"/>
<rect x="75" y="687" width="5" height="52" fill="#00FF00"/>
<rect x="83" y="682" width="5" height="57" fill="#00FF00"/>
<rect x="91" y="678" width="5" height="61" fill="#00FF00"/>
<rect x="99" y="678" width="5" height="61" fill="#00FF00"/>
<rect x="107" y="673" width="5" height="66" fill="#00FF00"/>
<rect x="115" y="669" width="5" height="70" fill="#00FF00"/>
<rect x="123" y="666" width="5" height="73" fill="#00FF00"/>
<rect x="131" y="665" width="5" height="74" fill="#00FF00"/>
<rect x="139" y="662" width="5" height="77" fill="#00FF00"/>
<rect x="147" y="662" width="5" height="77" fill="#00FF00"/>
<rect x="155" y="660" width="5" height="79" fill="#00FF00"/>
<rect x="163" y="663" width="5" height="76" fill="#00FF00"/>
<rect x="171" y="664" width="5" height="75" fill="#00FF00"/>
<rect x="179" y="657" width="5" height="82" fill="#00FF00"/>
<rect x="187" y="652" width="5" height="87" fill="#00FF00"/>
<rect x="195" y="653" width="5" height="86" fill="#00FF00"/>
<rect x="203" y="641" width="5" height="98" fill="#00FF00"/>
<rect x="211" y="629" width="5" height="110" fill="#00FF00"/>
<rect x="219" y="622" width="5" height="117" fill="#00FF00"/>
<rect x="227" y="618" width="5" height="121" fill="#00FF00"/>
<rect x="235" y="615" width="5" height="124" fill="#00FF00"/>
<rect x="243" y="613" width="5" height="126" fill="#00FF00"/>
<rect x="251" y="613" width="5" height="126" fill="#00FF00"/>
<rect x="259" y="619" width="5" height="120" fill="#00FF00"/>
<rect x="267" y="624" width="5" height="115" fill="#00FF00"/>
<rect x="275" y="632" width="5" height="107" fill="#00FF00"/>
<rect x="283" y="638" width="5" height="101" fill="#00FF00"/>
<rect x="291" y="646" width="5" height="93" fill="#00FF00"/>
<rect x="299" y="653" width="5" height="86" fill="#00FF00"/>
<rect x="307" y="659" width="5" height="80" fill="#00FF00"/>
<rect x="315" y="665" width="5" height="74" fill="#00FF00"/>
<rect x="323" y="672" width="5" height="67" fill="#00FF00"/>
<rect x="331" y="677" width="5" height="62" fill="#00FF00"/>
<rect x="339" y="683" width="5" height="56" fill="#00FF00"/>
<rect x="347" y="694" width="5" height="45" fill="#00FF00"/>
<rect x="355" y="699" width="5" height="40" fill="#00FF00"/>
<rect x="363" y="704" width="5" height="35" fill="#00FF00"/>
<rect x="371" y="708" width="5" height="31" fill="#00FF00"/>
<rect x="379" y="713" width="5" height="26" fill="#00FF00"/>
<rect x="387" y="716" width="5" height="23" fill="#00FF00"/>
<rect x="395" y="725" width="5" height="14" fill="#00FF00"/>
<rect x="403" y="732" width="5" height="7" fill="#00FF00"/>
<rect x="411" y="737" width="5" height="2" fill="#00FF00"/>
<rect x="419" y="739" width="5" height="4" fill="#00FF00"/>
<rect x="427" y="739" width="5" height="11" fill="#00FF00"/>
<rect x="435" y="739" width="5" height="16" fill="#00FF00"/>
<rect x="443" y="739" width="5" height="15" fill="#00FF00"/>
<rect x="451" y="739" width="5" height="12" fill="#00FF00"/>
<rect x="459" y="739" width="5" height="9" fill="#00FF00"/>
<rect x="467" y="739" width="5" height="12" fill="#00FF00"/>
<rect x="475" y="739" width="5" height="15" fill="#00FF00"/>
<rect x="483" y="739" width="5" height="16" fill="#00FF00"/>
<rect x="491" y="739" width="5" height="20" fill="#00FF00"/>
<rect x="499" y="739" width="5" height="24" fill="#00FF00"/>
<rect x="507" y="739" width="5" height="24" fill="#00FF00"/>
<rect x="515" y="739" width="5" height="24" fill="#00FF00"/>
<rect x="523" y="739" width="5" height="27" fill="#00FF00"/>
<rect x="531" y="739" width="5" height="29" fill="#00FF00"/>
<rect x="539" y="739" width="5" height="30" fill="#00FF00"/>
<rect x="547" y="739" width="5" height="35" fill="#00FF00"/>
<rect x="555" y="739" width="5" height="36" fill="#00FF00"/>
<rect x="563" y="739" width="5" height="37" fill="#00FF00"/>
<rect x="571" y="739" width="5" height="36" fill="#00FF00"/>
<rect x="579" y="739" width="5" height="37" fill="#00FF00"/>
<rect x="587" y="739" width="5" height="31" fill="#00FF00"/>
<rect x="595" y="739" width="5" height="21" fill="#00FF00"/>
<rect x="603" y="739" width="5" height="15" fill="#00FF00"/>
<rect x="611" y="739" width="5" height="10" fill="#00FF00"/>
<rect x="619" y="739" width="5" height="6" fill="#00FF00"/>
<rect x="627" y="739" width="5" height="3" fill="#00FF00"/>
<rect x="635" y="736" width="5" height="3" fill="#00FF00"/>
<rect x="643" y="732" width="5" height="7" fill="#00FF00"/>
<rect x="651" y="727" width="5" height="12" fill="#00FF00"/>
<rect x="659" y="726" width="5" height="13" fill="#00FF00"/>
<rect x="667" y="725" width="5" height="14" fill="#00FF00"/>
<rect x="675" y="722" width="5" height="17" fill="#00FF00"/>
<rect x="683" y="719" width="5" height="20" fill="#00FF00"/>
<rect x="691" y="715" width="5" height="24" fill="#00FF00"/>
<rect x="699" y="713" width="5" height="26" fill="#00FF00"/>
<rect x="707" y="711" width="5" height="28" fill="#00FF00"/>
<rect x="715" y="709" width="5" height="30" fill="#00FF00"/>
<rect x="723" y="705" width="5" height="34" fill="#00FF00"/>
<rect x="731" y="696" width="5" height="43" fill="#00FF00"/>
<rect x="739" y="687" width="5" height="52" fill="#00FF00"/>
<rect x="747" y="679" width="5" height="60" fill="#00FF00"/>
<rect x="755" y="674" width="5" height="65" fill="#00FF00"/>
<rect x="763" y="671" width="5" height="68" fill="#00FF00"/>
<rect x="771" y="671" width="5" height="68" fill="#00FF00"/>
<rect x="779" y="670" width="5" height="69" fill="#00FF00"/>
<rect x="787" y="670" width="5" height="69" fill="#00FF00"/>
<rect x="795" y="671" width="5" height="68" fill="#00FF00"/>
<rect x="803" y="672" width="5" height="67" fill="#00FF00"/>
<rect x="811" y="672" width="5" height="67" fill="#00FF00"/>
<rect x="819" y="675" width="5" height="64" fill="#00FF00"/>
<rect x="827" y="678" width="5" height="61" fill="#00FF00"/>
<rect x="835" y="680" width="5" height="59" fill="#00FF00"/>
<rect x="843" y="683" width="5" height="56" fill="#00FF00"/>
<rect x="851" y="686" width="5" height="53" fill="#00FF00"/>
<rect x="859" y="691" width="5" height="48" fill="#00FF00"/>
<rect x="867" y="699" width="5" height="40" fill="#00FF00"/>
<rect x="875" y="701" width="5" height="38" fill="#00FF00"/>
<rect x="883" y="704" width="5" height="35" fill="#00FF00"/>
<rect x="891" y="707" width="5" height="32" fill="#00FF00"/>
<rect x="899" y="713" width="5" height="26" fill="#00FF00"/>
<rect x="907" y="719" width="5" height="20" fill="#00FF00"/>
<rect x="915" y="725" width="5" height="14" fill="#00FF00"/>
<rect x="923" y="737" width="5" height="2" fill="#00FF00"/>
<rect x="931" y="739" width="5" height="5" fill="#00FF00"/>
<rect x="939" y="739" width="5" height="10" fill="#00FF00"/>
<rect x="947" y="739" width="5" height="14" fill="#00FF00"/>
<rect x="955" y="739" width="5" height="18" fill="#00FF00"/>
<rect x="963" y="739" width="5" height="21" fill="#00FF00"/>
<rect x="971" y="739" width="5" height="20" fill="#00FF00"/>
<rect x="979" y="739" width="5" height="23" fill="#00FF00"/>
<rect x="987" y="739" width="5" height="25" fill="#00FF00"/>
<rect x="995" y="739" width="5" height="30" fill="#00FF00"/>
<rect x="1003" y="739" width="5" height="35" fill="#00FF00"/>
<rect x="1011" y="739" width="5" height="34" fill="#00FF00"/>
<rect x="1019" y="739" width="5" height="33" fill="#00FF00"/>
<rect x="1027" y="739" width="5" height="27" fill="#00FF00"/>
<rect x="1035" y="739" width="5" height="25" fill="#00FF00"/>
<rect x="1043" y="739" width="5" height="22" fill="#00FF00"/>
<rect x="1051" y="739" width="5" height="20" fill="#00FF00"/>
<rect x="1059" y="739" width="5" height="16" fill="#00FF00"/>
<rect x="1067" y="739" width="5" height="10" fill="#00FF00"/>
<rect x="1075" y="739" width="5" height="2" fill="#00FF00"/>
<rect x="1083" y="735" width="5" height="4" fill="#00FF00"/>
<rect x="1091" y="730" width="5" height="9" fill="#00FF00"/>
<rect x="1099" y="725" width="5" height="14" fill="#00FF00"/>
<rect x="1107" y="719" width="5" height="20" fill="#00FF00"/>
<rect x="1115" y="712" width="5" height="27" fill="#00FF00"/>
<rect x="1123" y="704" width="5" height="35" fill="#00FF00"/>
<rect x="1131" y="697" width="5" height="42" fill="#00FF00"/>
<rect x="1139" y="692" width="5" height="47" fill="#00FF00"/>
<polyline points="4.5,712.4 5.5,712.4 13.5,712.4 21.5,712.3 29.5,710.6 37.5,709.4 45.5,708.3 53.5,707.2 61.5,705.5 69.5,703.7 77.5,700.9 85.5,697.8 93.5,694.5 101.5,691.5 109.5,688.1 117.5,684.5 125.5,680.7 133.5,676.9 141.5,673.5 149.5,670.7 157.5,668.3 165.5,666.6 173.5,665.1 181.5,663.3 189.5,661.4 197.5,660.0 205.5,657.3 213.5,653.6 221.5,649.2 229.5,644.5 237.5,639.1 245.5,633.5 253.5,628.6 261.5,624.9 269.5,621.6 277.5,620.6 285.5,621.6 293.5,624.3 301.5,628.2 309.5,633.1 317.5,638.9 325.5,645.4 333.5,651.9 341.5,658.5 349.5,665.3 357.5,672.1 365.5,678.6 373.5,684.7 381.5,690.7 389.5,696.4 397.5,702.2 405.5,708.3 413.5,714.3 421.5,719.6 429.5,725.2 437.5,730.7 445.5,735.7 453.5,739.8 461.5,743.2 469.5,746.0 477.5,748.3 485.5,750.2 493.5,752.0 501.5,753.4 509.5,754.3 517.5,755.3 525.5,757.0 533.5,759.2 541.5,761.2 549.5,763.5 557.5,765.7 565.5,767.6 573.5,768.9 581.5,770.4 589.5,771.2 597.5,770.5 605.5,768.9 613.5,766.7 621.5,763.5 629.5,759.8 637.5,755.5 645.5,750.8 653.5,745.5 661.5,740.7 669.5,736.9 677.5,733.5 685.5,730.3 693.5,727.1 701.5,724.0 709.5,721.2 717.5,718.7 725.5,716.2 733.5,712.9 741.5,708.7 749.5,703.9 757.5,698.9 765.5,694.0 773.5,689.4 781.5,684.8 789.5,680.5 797.5,676.7 805.5,674.0 813.5,672.4 821.5,671.9 829.5,672.4 837.5,673.4 845.5,674.7 853.5,676.5 861.5,678.8 869.5,681.9 877.5,685.2 885.5,688.7 893.5,692.3 901.5,696.1 909.5,700.5 917.5,705.1 925.5,710.8 933.5,716.6 941.5,722.0 949.5,727.6 957.5,733.4 965.5,739.2 973.5,744.2 981.5,748.8 989.5,753.0 997.5,756.4 1005.5,759.8 1013.5,762.4 1021.5,764.5 1029.5,765.6 1037.5,766.0 1045.5,766.2 1053.5,765.9 1061.5,764.9 1069.5,762.7 1077.5,759.0 1085.5,754.9 1093.5,750.3 1101.5,745.9 1109.5,741.1 1117.5,735.7 1125.5,729.7 1133.5,723.4 1141.5,717.2" fill="none" stroke="#FF0000" stroke-width="3" stroke-linejoin="round" shape-rendering="crispEdges"/>
<rect x="2" y="2" width="2" height="808" fill="#FFFFFF"/>
<rect x="4" y="4" width="1441" height="1" fill="#000"/>
<rect x="4" y="4" width="1" height="598" fill="#000"/>
<rect x="4" y="601" width="1441" height="1" fill="#000"/>
<rect x="1444" y="4" width="1" height="598" fill="#000"/>
<rect x="4" y="603" width="1441" height="1" fill="#000"/>
<rect x="4" y="603" width="1" height="182" fill="#000"/>
<rect x="4" y="784" width="1441" height="1" fill="#000"/>
<rect x="1444" y="603" width="1" height="182" fill="#000"/>
<rect x="3" y="94" width="8" height="8" fill="#0000CD"/>
<rect x="1437" y="94" width="8" height="8" fill="#0000CD"/>
<rect x="1444" y="57" width="2" height="1" fill="#778899"/>
<rect x="1444" y="96" width="2" height="4" fill="#0000CD"/>
<rect x="1444" y="132" width="2" height="4" fill="#0000CD"/>
<rect x="1444" y="273" width="2" height="4" fill="#0000CD"/>
<rect x="1445" y="46" width="2" height="1" fill="#000"/>
<rect x="1445" y="111" width="2" height="1" fill="#000"/>
<rect x="1445" y="176" width="2" height="1" fill="#000"/>
<rect x="1445" y="241" width="2" height="1" fill="#000"/>
<rect x="1445" y="306" width="2" height="1" fill="#000"/>
<rect x="1445" y="371" width="2" height="1" fill="#000"/>
<rect x="1445" y="436" width="2" height="1" fill="#000"/>
<rect x="1445" y="501" width="2" height="1" fill="#000"/>
<rect x="1445" y="566" width="2" height="1" fill="#000"/>
<rect x="1445" y="605" width="1" height="1" fill="#000"/>
<rect x="1445" y="739" width="1" height="1" fill="#000"/>
<rect x="1445" y="783" width="1" height="1" fill="#000"/>
<rect x="5" y="785" width="1" height="3" fill="#000"/>
<rect x="133" y="785" width="1" height="3" fill="#000"/>
<rect x="261" y="785" width="1" height="3" fill="#000"/>
<rect x="389" y="785" width="1" height="3" fill="#000"/>
<rect x="517" y="785" width="1" height="3" fill="#000"/>
<rect x="645" y="785" width="1" height="3" fill="#000"/>
<rect x="773" y="785" width="1" height="3" fill="#000"/>
<rect x="901" y="785" width="1" height="3" fill="#000"/>
<rect x="1029" y="785" width="1" height="3" fill="#000"/>
<text x="25.2" y="21" fill="#000" textLength="67" lengthAdjust="spacingAndGlyphs">SP500-,H4</text>
<text x="100.4" y="21" fill="#000" textLength="59.6" lengthAdjust="spacingAndGlyphs">4512.470</text>
<text x="163.9" y="21" fill="#000" textLength="59.6" lengthAdjust="spacingAndGlyphs">4515.230</text>
<text x="228.1" y="21" fill="#000" textLength="59.6" lengthAdjust="spacingAndGlyphs">4511.350</text>
<text x="291.8" y="21" fill="#000" textLength="59.6" lengthAdjust="spacingAndGlyphs">4512.970</text>
<text x="8.8" y="621" fill="#000" textLength="94.7" lengthAdjust="spacingAndGlyphs">MACD(12,26,9)</text>
<text x="108.5" y="621" fill="#000" textLength="51.3" lengthAdjust="spacingAndGlyphs">14.6559</text>
<text x="163.7" y="621" fill="#000" textLength="43.5" lengthAdjust="spacingAndGlyphs">6.8962</text>
<text x="1450.4" y="52" fill="#000" textLength="61.1" lengthAdjust="spacingAndGlyphs">4517.610</text>
<text x="1450.4" y="117" fill="#000" textLength="61.1" lengthAdjust="spacingAndGlyphs">4489.890</text>
<text x="1450.4" y="182" fill="#000" textLength="61.1" lengthAdjust="spacingAndGlyphs">4462.170</text>
<text x="1450.4" y="247" fill="#000" textLength="61.1" lengthAdjust="spacingAndGlyphs">4434.450</text>
<text x="1450.4" y="312" fill="#000" textLength="61.1" lengthAdjust="spacingAndGlyphs">4406.730</text>
<text x="1450.4" y="377" fill="#000" textLength="61.1" lengthAdjust="spacingAndGlyphs">4379.010</text>
<text x="1450.4" y="442" fill="#000" textLength="61.1" lengthAdjust="spacingAndGlyphs">4351.290</text>
<text x="1450.4" y="507" fill="#000" textLength="61.1" lengthAdjust="spacingAndGlyphs">4323.570</text>
<text x="1450.4" y="572" fill="#000" textLength="61.1" lengthAdjust="spacingAndGlyphs">4295.850</text>
<text x="1447.7" y="619" fill="#000" textLength="44.8" lengthAdjust="spacingAndGlyphs">41.654</text>
<text x="1447.7" y="745" fill="#000" textLength="28.5" lengthAdjust="spacingAndGlyphs">0.00</text>
<text x="1447.7" y="780" fill="#000" textLength="57.9" lengthAdjust="spacingAndGlyphs">-13.6646</text>
<rect x="1446" y="49" width="70" height="17" fill="#000"/>
<text x="1450.4" y="63" fill="#FFF" textLength="61.1" lengthAdjust="spacingAndGlyphs">4512.970</text>
<rect x="1446" y="92" width="70" height="17" fill="#0000CD"/>
<text x="1450.4" y="106" fill="#FFF" textLength="61.1" lengthAdjust="spacingAndGlyphs">4495.473</text>
<rect x="1446" y="128" width="70" height="17" fill="#0000CD"/>
<text x="1450.4" y="142" fill="#FFF" textLength="61.1" lengthAdjust="spacingAndGlyphs">4480.000</text>
<rect x="1446" y="269" width="70" height="17" fill="#0000CD"/>
<text x="1450.4" y="283" fill="#FFF" textLength="61.1" lengthAdjust="spacingAndGlyphs">4420.000</text>
<text x="4.0" y="802" fill="#000" >9 Jun 2023</text>
<text x="132.0" y="802" fill="#000" >14 Jun 00:00</text>
<text x="260.0" y="802" fill="#000" >16 Jun 16:00</text>
<text x="388.0" y="802" fill="#000" >21 Jun 08:00</text>
<text x="516.0" y="802" fill="#000" >26 Jun 00:00</text>
<text x="644.0" y="802" fill="#000" >28 Jun 16:00</text>
<text x="772.0" y="802" fill="#000" >3 Jul 08:00</text>
<text x="900.0" y="802" fill="#000" >6 Jul 00:00</text>
<text x="1028.0" y="802" fill="#000" >10 Jul 16:00</text>
<polygon points="1147,5 1162,5 1154.5,12.5" fill="#778899" shape-rendering="geometricPrecision"/>
<g shape-rendering="geometricPrecision" fill="#FF0000">
<polygon points="1151.7,102.1 1200.3,26.2 1194.3,22.3 1146.7,98.9"/>
<circle cx="1149.2" cy="100.5" r="3.0"/>
<polygon points="1185.7,20.5 1205.7,33.1 1215.9,-6.1"/>
</g>
</svg>
</body></html>
